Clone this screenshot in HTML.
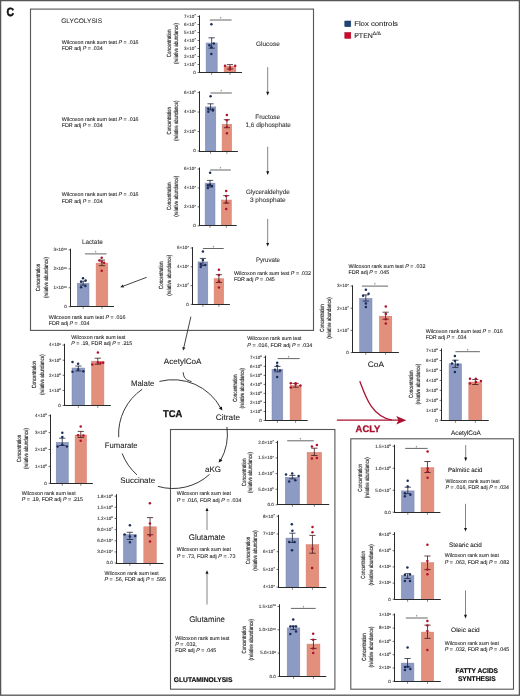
<!DOCTYPE html>
<html><head><meta charset="utf-8"><title>Figure C</title>
<style>html,body{margin:0;padding:0;background:#fff;} svg{display:block;}</style>
</head><body>
<svg width="520" height="696" viewBox="0 0 520 696" text-rendering="geometricPrecision" font-family='"Liberation Sans", Arial, Helvetica, sans-serif'>
<rect x="0" y="0" width="520" height="696" fill="#fff"/>
<rect x="0.6" y="0.6" width="518.8" height="694.6" fill="none" stroke="#555" stroke-width="1.3"/>
<text x="6.60" y="15.60" font-size="12" text-anchor="start" font-weight="bold" fill="#111" textLength="7.60" lengthAdjust="spacingAndGlyphs" stroke="#111" stroke-width="0.5">C</text>
<rect x="30.5" y="9.1" width="283" height="321.3" fill="none" stroke="#5a5a5a" stroke-width="1.15"/>
<text x="61.20" y="23.20" font-size="6.6" text-anchor="start" fill="#333" stroke="#333" stroke-width="0.08" textLength="40.90" lengthAdjust="spacingAndGlyphs">GLYCOLYSIS</text>
<text x="61.80" y="43.60" font-size="5.35" text-anchor="start" fill="#222" stroke="#222" stroke-width="0.08" textLength="76.80" lengthAdjust="spacingAndGlyphs">Wilcoxon rank sum test <tspan font-style="italic">P</tspan> = .016</text>
<text x="61.80" y="50.30" font-size="5.35" text-anchor="start" fill="#222" stroke="#222" stroke-width="0.08" textLength="40.80" lengthAdjust="spacingAndGlyphs">FDR adj <tspan font-style="italic">P</tspan> = .034</text>
<text x="61.80" y="120.70" font-size="5.35" text-anchor="start" fill="#222" stroke="#222" stroke-width="0.08" textLength="76.80" lengthAdjust="spacingAndGlyphs">Wilcoxon rank sum test <tspan font-style="italic">P</tspan> = .016</text>
<text x="61.80" y="127.40" font-size="5.35" text-anchor="start" fill="#222" stroke="#222" stroke-width="0.08" textLength="40.80" lengthAdjust="spacingAndGlyphs">FDR adj <tspan font-style="italic">P</tspan> = .034</text>
<text x="61.80" y="196.30" font-size="5.35" text-anchor="start" fill="#222" stroke="#222" stroke-width="0.08" textLength="76.80" lengthAdjust="spacingAndGlyphs">Wilcoxon rank sum test <tspan font-style="italic">P</tspan> = .016</text>
<text x="61.80" y="203.00" font-size="5.35" text-anchor="start" fill="#222" stroke="#222" stroke-width="0.08" textLength="40.80" lengthAdjust="spacingAndGlyphs">FDR adj <tspan font-style="italic">P</tspan> = .034</text>
<rect x="344.8" y="21.0" width="6.0" height="5.7" fill="#1d4675" stroke="#12305a" stroke-width="0.5"/>
<rect x="344.8" y="32.5" width="6.0" height="5.9" fill="#d0082e" stroke="#a00a24" stroke-width="0.5"/>
<text x="354.20" y="26.20" font-size="7.0" text-anchor="start" fill="#222" stroke="#222" stroke-width="0.08" textLength="43.80" lengthAdjust="spacingAndGlyphs">Flox controls</text>
<text x="354.2" y="38" font-size="7.0" fill="#222" stroke="#222" stroke-width="0.08">PTEN<tspan font-size="5.0" dy="-3.0">Δ/Δ</tspan></text>
<text x="267.90" y="45.60" font-size="6.4" text-anchor="middle" fill="#333" stroke="#333" stroke-width="0.08" textLength="23.80" lengthAdjust="spacingAndGlyphs">Glucose</text>
<text x="267.70" y="118.70" font-size="6.4" text-anchor="middle" fill="#333" stroke="#333" stroke-width="0.08">Fructose</text>
<text x="268.20" y="126.80" font-size="6.4" text-anchor="middle" fill="#333" stroke="#333" stroke-width="0.08" textLength="45.30" lengthAdjust="spacingAndGlyphs">1,6 diphosphate</text>
<text x="267.90" y="193.80" font-size="6.4" text-anchor="middle" fill="#333" stroke="#333" stroke-width="0.08" textLength="43.70" lengthAdjust="spacingAndGlyphs">Glyceraldehyde</text>
<text x="267.80" y="202.10" font-size="6.4" text-anchor="middle" fill="#333" stroke="#333" stroke-width="0.08" textLength="35.80" lengthAdjust="spacingAndGlyphs">3 phosphate</text>
<text x="268.00" y="262.20" font-size="6.4" text-anchor="middle" fill="#333" stroke="#333" stroke-width="0.08" textLength="24.00" lengthAdjust="spacingAndGlyphs">Pyruvate</text>
<line x1="267.70" y1="67.20" x2="267.70" y2="93.24" stroke="#777" stroke-width="0.9"/>
<path d="M266.20,91.80 L269.20,91.80 L267.70,95.40 Z" fill="#111"/>
<line x1="267.70" y1="146.70" x2="267.70" y2="172.74" stroke="#777" stroke-width="0.9"/>
<path d="M266.20,171.30 L269.20,171.30 L267.70,174.90 Z" fill="#111"/>
<line x1="267.70" y1="218.90" x2="267.70" y2="244.44" stroke="#777" stroke-width="0.9"/>
<path d="M266.20,243.00 L269.20,243.00 L267.70,246.60 Z" fill="#111"/>
<text x="234.00" y="274.70" font-size="5.35" text-anchor="start" fill="#222" stroke="#222" stroke-width="0.08" textLength="77.00" lengthAdjust="spacingAndGlyphs">Wilcoxon rank sum test <tspan font-style="italic">P</tspan> = .032</text>
<text x="234.00" y="281.10" font-size="5.35" text-anchor="start" fill="#222" stroke="#222" stroke-width="0.08" textLength="40.80" lengthAdjust="spacingAndGlyphs">FDR adj <tspan font-style="italic">P</tspan> = .045</text>
<text x="92.30" y="243.80" font-size="6.6" text-anchor="middle" fill="#333" stroke="#333" stroke-width="0.08" textLength="20.80" lengthAdjust="spacingAndGlyphs">Lactate</text>
<line x1="146.70" y1="277.30" x2="122.11" y2="286.58" stroke="#222" stroke-width="0.85"/>
<path d="M122.82,284.60 L123.95,287.60 L120.20,287.30 Z" fill="#222"/>
<text x="48.70" y="318.50" font-size="5.35" text-anchor="start" fill="#222" stroke="#222" stroke-width="0.08" textLength="76.80" lengthAdjust="spacingAndGlyphs">Wilcoxon rank sum test <tspan font-style="italic">P</tspan> = .016</text>
<text x="48.70" y="324.70" font-size="5.35" text-anchor="start" fill="#222" stroke="#222" stroke-width="0.08" textLength="40.80" lengthAdjust="spacingAndGlyphs">FDR adj <tspan font-style="italic">P</tspan> = .034</text>
<text transform="translate(170.70,43.40) rotate(-90)" x="0" y="0" font-size="6.0" text-anchor="middle" fill="#222" stroke="#222" stroke-width="0.15" textLength="27.5" lengthAdjust="spacingAndGlyphs">Concentration</text>
<text transform="translate(177.80,43.40) rotate(-90)" x="0" y="0" font-size="6.0" text-anchor="middle" fill="#222" stroke="#222" stroke-width="0.15" textLength="41" lengthAdjust="spacingAndGlyphs">(relative abundance)</text>
<rect x="206.10" y="43.00" width="11.10" height="29.50" fill="#8d9ac3" stroke="#7b87ad" stroke-width="0.5"/>
<rect x="224.10" y="66.20" width="11.70" height="6.30" fill="#e28f7c" stroke="#d97b70" stroke-width="0.5"/>
<line x1="199.50" y1="15.40" x2="199.50" y2="73.00" stroke="#2a2a2a" stroke-width="1.0"/>
<line x1="199.00" y1="72.50" x2="242.00" y2="72.50" stroke="#2a2a2a" stroke-width="1.0"/>
<line x1="197.60" y1="72.50" x2="199.50" y2="72.50" stroke="#2a2a2a" stroke-width="0.7"/>
<text x="195.70" y="73.85" font-size="4.5" text-anchor="end" fill="#333" stroke="#333" stroke-width="0.1">0</text>
<line x1="197.60" y1="64.50" x2="199.50" y2="64.50" stroke="#2a2a2a" stroke-width="0.7"/>
<text x="195.70" y="65.85" font-size="4.5" text-anchor="end" fill="#333" stroke="#333" stroke-width="0.1">1×10<tspan font-size="2.79" dy="-1.6">7</tspan></text>
<line x1="197.60" y1="56.50" x2="199.50" y2="56.50" stroke="#2a2a2a" stroke-width="0.7"/>
<text x="195.70" y="57.85" font-size="4.5" text-anchor="end" fill="#333" stroke="#333" stroke-width="0.1">2×10<tspan font-size="2.79" dy="-1.6">7</tspan></text>
<line x1="197.60" y1="48.50" x2="199.50" y2="48.50" stroke="#2a2a2a" stroke-width="0.7"/>
<text x="195.70" y="49.85" font-size="4.5" text-anchor="end" fill="#333" stroke="#333" stroke-width="0.1">3×10<tspan font-size="2.79" dy="-1.6">7</tspan></text>
<line x1="197.60" y1="40.50" x2="199.50" y2="40.50" stroke="#2a2a2a" stroke-width="0.7"/>
<text x="195.70" y="41.85" font-size="4.5" text-anchor="end" fill="#333" stroke="#333" stroke-width="0.1">4×10<tspan font-size="2.79" dy="-1.6">7</tspan></text>
<line x1="197.60" y1="32.50" x2="199.50" y2="32.50" stroke="#2a2a2a" stroke-width="0.7"/>
<text x="195.70" y="33.85" font-size="4.5" text-anchor="end" fill="#333" stroke="#333" stroke-width="0.1">5×10<tspan font-size="2.79" dy="-1.6">7</tspan></text>
<line x1="197.60" y1="24.50" x2="199.50" y2="24.50" stroke="#2a2a2a" stroke-width="0.7"/>
<text x="195.70" y="25.85" font-size="4.5" text-anchor="end" fill="#333" stroke="#333" stroke-width="0.1">6×10<tspan font-size="2.79" dy="-1.6">7</tspan></text>
<line x1="197.60" y1="16.50" x2="199.50" y2="16.50" stroke="#2a2a2a" stroke-width="0.7"/>
<text x="195.70" y="17.85" font-size="4.5" text-anchor="end" fill="#333" stroke="#333" stroke-width="0.1">7×10<tspan font-size="2.79" dy="-1.6">7</tspan></text>
<line x1="211.65" y1="72.50" x2="211.65" y2="74.80" stroke="#333" stroke-width="0.6"/>
<line x1="229.95" y1="72.50" x2="229.95" y2="74.80" stroke="#333" stroke-width="0.6"/>
<line x1="211.65" y1="37.80" x2="211.65" y2="48.20" stroke="#20243a" stroke-width="0.8"/>
<line x1="208.55" y1="37.80" x2="214.75" y2="37.80" stroke="#20243a" stroke-width="0.8"/>
<line x1="208.55" y1="48.20" x2="214.75" y2="48.20" stroke="#20243a" stroke-width="0.8"/>
<line x1="229.95" y1="64.60" x2="229.95" y2="69.00" stroke="#3a1c1e" stroke-width="0.8"/>
<line x1="226.85" y1="64.60" x2="233.05" y2="64.60" stroke="#3a1c1e" stroke-width="0.8"/>
<line x1="226.85" y1="69.00" x2="233.05" y2="69.00" stroke="#3a1c1e" stroke-width="0.8"/>
<circle cx="211.40" cy="24.30" r="1.25" fill="#1a2c5a"/>
<circle cx="209.40" cy="45.20" r="1.25" fill="#1a2c5a"/>
<circle cx="213.80" cy="43.40" r="1.25" fill="#1a2c5a"/>
<circle cx="211.40" cy="47.20" r="1.25" fill="#1a2c5a"/>
<circle cx="211.40" cy="53.90" r="1.25" fill="#1a2c5a"/>
<circle cx="225.00" cy="65.70" r="1.25" fill="#b0102c"/>
<circle cx="235.20" cy="65.70" r="1.25" fill="#b0102c"/>
<circle cx="229.90" cy="67.70" r="1.25" fill="#b0102c"/>
<circle cx="229.90" cy="69.50" r="1.25" fill="#b0102c"/>
<line x1="209.80" y1="20.00" x2="231.60" y2="20.00" stroke="#666" stroke-width="1.0"/>
<text x="220.70" y="20.30" font-size="4.6" text-anchor="middle" fill="#555">*</text>
<text transform="translate(170.80,120.80) rotate(-90)" x="0" y="0" font-size="6.0" text-anchor="middle" fill="#222" stroke="#222" stroke-width="0.15" textLength="27.5" lengthAdjust="spacingAndGlyphs">Concentration</text>
<text transform="translate(178.10,120.80) rotate(-90)" x="0" y="0" font-size="6.0" text-anchor="middle" fill="#222" stroke="#222" stroke-width="0.15" textLength="40.6" lengthAdjust="spacingAndGlyphs">(relative abundance)</text>
<rect x="205.30" y="106.90" width="10.50" height="44.10" fill="#8d9ac3" stroke="#7b87ad" stroke-width="0.5"/>
<rect x="222.10" y="124.30" width="9.60" height="26.70" fill="#e28f7c" stroke="#d97b70" stroke-width="0.5"/>
<line x1="199.50" y1="91.20" x2="199.50" y2="152.00" stroke="#2a2a2a" stroke-width="1.0"/>
<line x1="199.00" y1="151.50" x2="237.90" y2="151.50" stroke="#2a2a2a" stroke-width="1.0"/>
<line x1="197.60" y1="151.00" x2="199.50" y2="151.00" stroke="#2a2a2a" stroke-width="0.7"/>
<text x="195.70" y="152.35" font-size="4.5" text-anchor="end" fill="#333" stroke="#333" stroke-width="0.1">0</text>
<line x1="197.60" y1="131.53" x2="199.50" y2="131.53" stroke="#2a2a2a" stroke-width="0.7"/>
<text x="195.70" y="132.88" font-size="4.5" text-anchor="end" fill="#333" stroke="#333" stroke-width="0.1">2×10<tspan font-size="2.79" dy="-1.6">6</tspan></text>
<line x1="197.60" y1="112.06" x2="199.50" y2="112.06" stroke="#2a2a2a" stroke-width="0.7"/>
<text x="195.70" y="113.41" font-size="4.5" text-anchor="end" fill="#333" stroke="#333" stroke-width="0.1">4×10<tspan font-size="2.79" dy="-1.6">6</tspan></text>
<line x1="197.60" y1="92.59" x2="199.50" y2="92.59" stroke="#2a2a2a" stroke-width="0.7"/>
<text x="195.70" y="93.94" font-size="4.5" text-anchor="end" fill="#333" stroke="#333" stroke-width="0.1">6×10<tspan font-size="2.79" dy="-1.6">6</tspan></text>
<line x1="210.55" y1="151.50" x2="210.55" y2="153.80" stroke="#333" stroke-width="0.6"/>
<line x1="226.90" y1="151.50" x2="226.90" y2="153.80" stroke="#333" stroke-width="0.6"/>
<line x1="210.55" y1="103.80" x2="210.55" y2="110.00" stroke="#20243a" stroke-width="0.8"/>
<line x1="207.45" y1="103.80" x2="213.65" y2="103.80" stroke="#20243a" stroke-width="0.8"/>
<line x1="207.45" y1="110.00" x2="213.65" y2="110.00" stroke="#20243a" stroke-width="0.8"/>
<line x1="226.90" y1="119.70" x2="226.90" y2="127.70" stroke="#3a1c1e" stroke-width="0.8"/>
<line x1="223.80" y1="119.70" x2="230.00" y2="119.70" stroke="#3a1c1e" stroke-width="0.8"/>
<line x1="223.80" y1="127.70" x2="230.00" y2="127.70" stroke="#3a1c1e" stroke-width="0.8"/>
<circle cx="210.60" cy="96.30" r="1.25" fill="#1a2c5a"/>
<circle cx="208.30" cy="108.70" r="1.25" fill="#1a2c5a"/>
<circle cx="212.90" cy="109.60" r="1.25" fill="#1a2c5a"/>
<circle cx="208.30" cy="111.70" r="1.25" fill="#1a2c5a"/>
<circle cx="212.90" cy="110.50" r="1.25" fill="#1a2c5a"/>
<circle cx="226.90" cy="114.90" r="1.25" fill="#b0102c"/>
<circle cx="226.90" cy="120.20" r="1.25" fill="#b0102c"/>
<circle cx="226.90" cy="127.10" r="1.25" fill="#b0102c"/>
<circle cx="226.90" cy="133.20" r="1.25" fill="#b0102c"/>
<line x1="210.50" y1="93.00" x2="231.80" y2="93.00" stroke="#666" stroke-width="1.0"/>
<text x="221.15" y="93.30" font-size="4.6" text-anchor="middle" fill="#555">*</text>
<text transform="translate(170.90,196.20) rotate(-90)" x="0" y="0" font-size="6.0" text-anchor="middle" fill="#222" stroke="#222" stroke-width="0.15" textLength="27.5" lengthAdjust="spacingAndGlyphs">Concentration</text>
<text transform="translate(177.80,196.20) rotate(-90)" x="0" y="0" font-size="6.0" text-anchor="middle" fill="#222" stroke="#222" stroke-width="0.15" textLength="41" lengthAdjust="spacingAndGlyphs">(relative abundance)</text>
<rect x="205.10" y="183.10" width="9.90" height="42.70" fill="#8d9ac3" stroke="#7b87ad" stroke-width="0.5"/>
<rect x="221.30" y="200.00" width="10.10" height="25.80" fill="#e28f7c" stroke="#d97b70" stroke-width="0.5"/>
<line x1="199.50" y1="167.50" x2="199.50" y2="226.00" stroke="#2a2a2a" stroke-width="1.0"/>
<line x1="199.00" y1="225.50" x2="236.70" y2="225.50" stroke="#2a2a2a" stroke-width="1.0"/>
<line x1="197.60" y1="225.80" x2="199.50" y2="225.80" stroke="#2a2a2a" stroke-width="0.7"/>
<text x="195.70" y="227.15" font-size="4.5" text-anchor="end" fill="#333" stroke="#333" stroke-width="0.1">0</text>
<line x1="197.60" y1="206.87" x2="199.50" y2="206.87" stroke="#2a2a2a" stroke-width="0.7"/>
<text x="195.70" y="208.22" font-size="4.5" text-anchor="end" fill="#333" stroke="#333" stroke-width="0.1">2×10<tspan font-size="2.79" dy="-1.6">7</tspan></text>
<line x1="197.60" y1="187.94" x2="199.50" y2="187.94" stroke="#2a2a2a" stroke-width="0.7"/>
<text x="195.70" y="189.29" font-size="4.5" text-anchor="end" fill="#333" stroke="#333" stroke-width="0.1">4×10<tspan font-size="2.79" dy="-1.6">7</tspan></text>
<line x1="197.60" y1="169.01" x2="199.50" y2="169.01" stroke="#2a2a2a" stroke-width="0.7"/>
<text x="195.70" y="170.36" font-size="4.5" text-anchor="end" fill="#333" stroke="#333" stroke-width="0.1">6×10<tspan font-size="2.79" dy="-1.6">7</tspan></text>
<line x1="210.05" y1="225.50" x2="210.05" y2="227.80" stroke="#333" stroke-width="0.6"/>
<line x1="226.35" y1="225.50" x2="226.35" y2="227.80" stroke="#333" stroke-width="0.6"/>
<line x1="210.05" y1="180.40" x2="210.05" y2="187.00" stroke="#20243a" stroke-width="0.8"/>
<line x1="206.95" y1="180.40" x2="213.15" y2="180.40" stroke="#20243a" stroke-width="0.8"/>
<line x1="206.95" y1="187.00" x2="213.15" y2="187.00" stroke="#20243a" stroke-width="0.8"/>
<line x1="226.35" y1="195.70" x2="226.35" y2="203.10" stroke="#3a1c1e" stroke-width="0.8"/>
<line x1="223.25" y1="195.70" x2="229.45" y2="195.70" stroke="#3a1c1e" stroke-width="0.8"/>
<line x1="223.25" y1="203.10" x2="229.45" y2="203.10" stroke="#3a1c1e" stroke-width="0.8"/>
<circle cx="210.10" cy="172.70" r="1.25" fill="#1a2c5a"/>
<circle cx="207.80" cy="185.30" r="1.25" fill="#1a2c5a"/>
<circle cx="212.00" cy="186.10" r="1.25" fill="#1a2c5a"/>
<circle cx="207.80" cy="188.10" r="1.25" fill="#1a2c5a"/>
<circle cx="210.00" cy="184.70" r="1.25" fill="#1a2c5a"/>
<circle cx="226.20" cy="190.90" r="1.25" fill="#b0102c"/>
<circle cx="226.20" cy="202.60" r="1.25" fill="#b0102c"/>
<circle cx="226.20" cy="208.90" r="1.25" fill="#b0102c"/>
<circle cx="226.20" cy="196.00" r="1.25" fill="#b0102c"/>
<line x1="210.10" y1="170.00" x2="230.80" y2="170.00" stroke="#666" stroke-width="1.0"/>
<text x="220.45" y="170.30" font-size="4.6" text-anchor="middle" fill="#555">*</text>
<text transform="translate(163.40,275.30) rotate(-90)" x="0" y="0" font-size="6.0" text-anchor="middle" fill="#222" stroke="#222" stroke-width="0.15" textLength="27.3" lengthAdjust="spacingAndGlyphs">Concentration</text>
<text transform="translate(170.80,275.30) rotate(-90)" x="0" y="0" font-size="6.0" text-anchor="middle" fill="#222" stroke="#222" stroke-width="0.15" textLength="41" lengthAdjust="spacingAndGlyphs">(relative abundance)</text>
<rect x="198.00" y="261.90" width="9.80" height="42.50" fill="#8d9ac3" stroke="#7b87ad" stroke-width="0.5"/>
<rect x="214.10" y="278.70" width="9.60" height="25.70" fill="#e28f7c" stroke="#d97b70" stroke-width="0.5"/>
<line x1="192.50" y1="247.10" x2="192.50" y2="305.00" stroke="#2a2a2a" stroke-width="1.0"/>
<line x1="192.00" y1="304.50" x2="229.90" y2="304.50" stroke="#2a2a2a" stroke-width="1.0"/>
<line x1="190.60" y1="304.40" x2="192.50" y2="304.40" stroke="#2a2a2a" stroke-width="0.7"/>
<text x="188.70" y="305.75" font-size="4.5" text-anchor="end" fill="#333" stroke="#333" stroke-width="0.1">0</text>
<line x1="190.60" y1="285.60" x2="192.50" y2="285.60" stroke="#2a2a2a" stroke-width="0.7"/>
<text x="188.70" y="286.95" font-size="4.5" text-anchor="end" fill="#333" stroke="#333" stroke-width="0.1">2×10<tspan font-size="2.79" dy="-1.6">7</tspan></text>
<line x1="190.60" y1="266.80" x2="192.50" y2="266.80" stroke="#2a2a2a" stroke-width="0.7"/>
<text x="188.70" y="268.15" font-size="4.5" text-anchor="end" fill="#333" stroke="#333" stroke-width="0.1">4×10<tspan font-size="2.79" dy="-1.6">7</tspan></text>
<line x1="190.60" y1="248.00" x2="192.50" y2="248.00" stroke="#2a2a2a" stroke-width="0.7"/>
<text x="188.70" y="249.35" font-size="4.5" text-anchor="end" fill="#333" stroke="#333" stroke-width="0.1">6×10<tspan font-size="2.79" dy="-1.6">7</tspan></text>
<line x1="202.90" y1="304.50" x2="202.90" y2="306.80" stroke="#333" stroke-width="0.6"/>
<line x1="218.90" y1="304.50" x2="218.90" y2="306.80" stroke="#333" stroke-width="0.6"/>
<line x1="202.90" y1="258.40" x2="202.90" y2="265.50" stroke="#20243a" stroke-width="0.8"/>
<line x1="199.80" y1="258.40" x2="206.00" y2="258.40" stroke="#20243a" stroke-width="0.8"/>
<line x1="199.80" y1="265.50" x2="206.00" y2="265.50" stroke="#20243a" stroke-width="0.8"/>
<line x1="218.90" y1="274.70" x2="218.90" y2="282.50" stroke="#3a1c1e" stroke-width="0.8"/>
<line x1="215.80" y1="274.70" x2="222.00" y2="274.70" stroke="#3a1c1e" stroke-width="0.8"/>
<line x1="215.80" y1="282.50" x2="222.00" y2="282.50" stroke="#3a1c1e" stroke-width="0.8"/>
<circle cx="202.90" cy="251.50" r="1.25" fill="#1a2c5a"/>
<circle cx="200.70" cy="264.00" r="1.25" fill="#1a2c5a"/>
<circle cx="205.30" cy="265.10" r="1.25" fill="#1a2c5a"/>
<circle cx="200.70" cy="266.90" r="1.25" fill="#1a2c5a"/>
<circle cx="202.90" cy="260.00" r="1.25" fill="#1a2c5a"/>
<circle cx="218.90" cy="269.70" r="1.25" fill="#b0102c"/>
<circle cx="218.90" cy="275.00" r="1.25" fill="#b0102c"/>
<circle cx="218.90" cy="281.40" r="1.25" fill="#b0102c"/>
<circle cx="218.90" cy="287.40" r="1.25" fill="#b0102c"/>
<line x1="202.90" y1="248.50" x2="223.70" y2="248.50" stroke="#666" stroke-width="1.0"/>
<text x="213.30" y="248.80" font-size="4.6" text-anchor="middle" fill="#555">*</text>
<text transform="translate(40.40,277.50) rotate(-90)" x="0" y="0" font-size="6.0" text-anchor="middle" fill="#222" stroke="#222" stroke-width="0.15" textLength="27.3" lengthAdjust="spacingAndGlyphs">Concentration</text>
<text transform="translate(47.50,277.50) rotate(-90)" x="0" y="0" font-size="6.0" text-anchor="middle" fill="#222" stroke="#222" stroke-width="0.15" textLength="41" lengthAdjust="spacingAndGlyphs">(relative abundance)</text>
<rect x="77.30" y="283.20" width="11.70" height="23.50" fill="#8d9ac3" stroke="#7b87ad" stroke-width="0.5"/>
<rect x="96.10" y="263.10" width="11.70" height="43.60" fill="#e28f7c" stroke="#d97b70" stroke-width="0.5"/>
<line x1="70.50" y1="248.70" x2="70.50" y2="307.00" stroke="#2a2a2a" stroke-width="1.0"/>
<line x1="70.00" y1="306.50" x2="114.00" y2="306.50" stroke="#2a2a2a" stroke-width="1.0"/>
<line x1="68.60" y1="306.70" x2="70.50" y2="306.70" stroke="#2a2a2a" stroke-width="0.7"/>
<text x="66.70" y="308.05" font-size="4.5" text-anchor="end" fill="#333" stroke="#333" stroke-width="0.1">0</text>
<line x1="68.60" y1="287.77" x2="70.50" y2="287.77" stroke="#2a2a2a" stroke-width="0.7"/>
<text x="66.70" y="289.12" font-size="4.5" text-anchor="end" fill="#333" stroke="#333" stroke-width="0.1">1×10<tspan font-size="2.79" dy="-1.6">10</tspan></text>
<line x1="68.60" y1="268.84" x2="70.50" y2="268.84" stroke="#2a2a2a" stroke-width="0.7"/>
<text x="66.70" y="270.19" font-size="4.5" text-anchor="end" fill="#333" stroke="#333" stroke-width="0.1">2×10<tspan font-size="2.79" dy="-1.6">10</tspan></text>
<line x1="68.60" y1="249.91" x2="70.50" y2="249.91" stroke="#2a2a2a" stroke-width="0.7"/>
<text x="66.70" y="251.26" font-size="4.5" text-anchor="end" fill="#333" stroke="#333" stroke-width="0.1">3×10<tspan font-size="2.79" dy="-1.6">10</tspan></text>
<line x1="83.15" y1="306.50" x2="83.15" y2="308.80" stroke="#333" stroke-width="0.6"/>
<line x1="101.95" y1="306.50" x2="101.95" y2="308.80" stroke="#333" stroke-width="0.6"/>
<line x1="83.15" y1="281.20" x2="83.15" y2="285.10" stroke="#20243a" stroke-width="0.8"/>
<line x1="80.05" y1="281.20" x2="86.25" y2="281.20" stroke="#20243a" stroke-width="0.8"/>
<line x1="80.05" y1="285.10" x2="86.25" y2="285.10" stroke="#20243a" stroke-width="0.8"/>
<line x1="101.95" y1="260.10" x2="101.95" y2="265.70" stroke="#3a1c1e" stroke-width="0.8"/>
<line x1="98.85" y1="260.10" x2="105.05" y2="260.10" stroke="#3a1c1e" stroke-width="0.8"/>
<line x1="98.85" y1="265.70" x2="105.05" y2="265.70" stroke="#3a1c1e" stroke-width="0.8"/>
<circle cx="83.00" cy="278.20" r="1.25" fill="#1a2c5a"/>
<circle cx="85.60" cy="280.60" r="1.25" fill="#1a2c5a"/>
<circle cx="81.10" cy="281.80" r="1.25" fill="#1a2c5a"/>
<circle cx="85.40" cy="285.90" r="1.25" fill="#1a2c5a"/>
<circle cx="81.10" cy="287.20" r="1.25" fill="#1a2c5a"/>
<circle cx="101.70" cy="257.70" r="1.25" fill="#b0102c"/>
<circle cx="99.40" cy="260.50" r="1.25" fill="#b0102c"/>
<circle cx="104.10" cy="262.70" r="1.25" fill="#b0102c"/>
<circle cx="101.70" cy="270.80" r="1.25" fill="#b0102c"/>
<circle cx="101.70" cy="261.80" r="1.25" fill="#b0102c"/>
<line x1="84.90" y1="253.90" x2="106.50" y2="253.90" stroke="#666" stroke-width="1.0"/>
<text x="95.70" y="254.20" font-size="4.6" text-anchor="middle" fill="#555">*</text>
<text transform="translate(323.70,318.00) rotate(-90)" x="0" y="0" font-size="6.0" text-anchor="middle" fill="#222" stroke="#222" stroke-width="0.15" textLength="27.3" lengthAdjust="spacingAndGlyphs">Concentration</text>
<text transform="translate(331.10,318.00) rotate(-90)" x="0" y="0" font-size="6.0" text-anchor="middle" fill="#222" stroke="#222" stroke-width="0.15" textLength="41.5" lengthAdjust="spacingAndGlyphs">(relative abundance)</text>
<rect x="359.60" y="298.40" width="12.40" height="54.20" fill="#8d9ac3" stroke="#7b87ad" stroke-width="0.5"/>
<rect x="379.40" y="316.20" width="12.40" height="36.40" fill="#e28f7c" stroke="#d97b70" stroke-width="0.5"/>
<line x1="352.50" y1="285.30" x2="352.50" y2="353.00" stroke="#2a2a2a" stroke-width="1.0"/>
<line x1="352.00" y1="352.50" x2="398.90" y2="352.50" stroke="#2a2a2a" stroke-width="1.0"/>
<line x1="350.60" y1="352.60" x2="352.50" y2="352.60" stroke="#2a2a2a" stroke-width="0.7"/>
<text x="348.70" y="353.95" font-size="4.5" text-anchor="end" fill="#333" stroke="#333" stroke-width="0.1">0</text>
<line x1="350.60" y1="330.40" x2="352.50" y2="330.40" stroke="#2a2a2a" stroke-width="0.7"/>
<text x="348.70" y="331.75" font-size="4.5" text-anchor="end" fill="#333" stroke="#333" stroke-width="0.1">1×10<tspan font-size="2.79" dy="-1.6">7</tspan></text>
<line x1="350.60" y1="308.20" x2="352.50" y2="308.20" stroke="#2a2a2a" stroke-width="0.7"/>
<text x="348.70" y="309.55" font-size="4.5" text-anchor="end" fill="#333" stroke="#333" stroke-width="0.1">2×10<tspan font-size="2.79" dy="-1.6">7</tspan></text>
<line x1="350.60" y1="286.00" x2="352.50" y2="286.00" stroke="#2a2a2a" stroke-width="0.7"/>
<text x="348.70" y="287.35" font-size="4.5" text-anchor="end" fill="#333" stroke="#333" stroke-width="0.1">3×10<tspan font-size="2.79" dy="-1.6">7</tspan></text>
<line x1="365.80" y1="352.50" x2="365.80" y2="354.80" stroke="#333" stroke-width="0.6"/>
<line x1="385.60" y1="352.50" x2="385.60" y2="354.80" stroke="#333" stroke-width="0.6"/>
<line x1="365.80" y1="294.90" x2="365.80" y2="301.10" stroke="#20243a" stroke-width="0.8"/>
<line x1="362.70" y1="294.90" x2="368.90" y2="294.90" stroke="#20243a" stroke-width="0.8"/>
<line x1="362.70" y1="301.10" x2="368.90" y2="301.10" stroke="#20243a" stroke-width="0.8"/>
<line x1="385.60" y1="312.20" x2="385.60" y2="319.20" stroke="#3a1c1e" stroke-width="0.8"/>
<line x1="382.50" y1="312.20" x2="388.70" y2="312.20" stroke="#3a1c1e" stroke-width="0.8"/>
<line x1="382.50" y1="319.20" x2="388.70" y2="319.20" stroke="#3a1c1e" stroke-width="0.8"/>
<circle cx="365.90" cy="289.80" r="1.25" fill="#1a2c5a"/>
<circle cx="368.60" cy="293.80" r="1.25" fill="#1a2c5a"/>
<circle cx="363.10" cy="295.80" r="1.25" fill="#1a2c5a"/>
<circle cx="365.90" cy="303.60" r="1.25" fill="#1a2c5a"/>
<circle cx="365.90" cy="307.00" r="1.25" fill="#1a2c5a"/>
<circle cx="385.80" cy="306.60" r="1.25" fill="#b0102c"/>
<circle cx="385.80" cy="314.00" r="1.25" fill="#b0102c"/>
<circle cx="385.80" cy="319.20" r="1.25" fill="#b0102c"/>
<circle cx="385.80" cy="323.60" r="1.25" fill="#b0102c"/>
<line x1="361.90" y1="286.10" x2="388.10" y2="286.10" stroke="#666" stroke-width="1.0"/>
<text x="375.00" y="286.40" font-size="4.6" text-anchor="middle" fill="#555">*</text>
<text x="375.90" y="366.70" font-size="8.0" text-anchor="middle" fill="#222" stroke="#222" stroke-width="0.08" textLength="16.10" lengthAdjust="spacingAndGlyphs">CoA</text>
<text x="348.40" y="267.80" font-size="5.35" text-anchor="start" fill="#222" stroke="#222" stroke-width="0.08" textLength="77.00" lengthAdjust="spacingAndGlyphs">Wilcoxon rank sum test <tspan font-style="italic">P</tspan> = .032</text>
<text x="348.40" y="274.40" font-size="5.35" text-anchor="start" fill="#222" stroke="#222" stroke-width="0.08" textLength="40.80" lengthAdjust="spacingAndGlyphs">FDR adj <tspan font-style="italic">P</tspan> = .045</text>
<text transform="translate(413.10,384.20) rotate(-90)" x="0" y="0" font-size="6.0" text-anchor="middle" fill="#222" stroke="#222" stroke-width="0.15" textLength="27.5" lengthAdjust="spacingAndGlyphs">Concentration</text>
<text transform="translate(419.80,384.20) rotate(-90)" x="0" y="0" font-size="6.0" text-anchor="middle" fill="#222" stroke="#222" stroke-width="0.15" textLength="40.7" lengthAdjust="spacingAndGlyphs">(relative abundance)</text>
<rect x="449.10" y="363.80" width="12.50" height="56.50" fill="#8d9ac3" stroke="#7b87ad" stroke-width="0.5"/>
<rect x="468.80" y="382.00" width="13.00" height="38.30" fill="#e28f7c" stroke="#d97b70" stroke-width="0.5"/>
<line x1="441.50" y1="348.50" x2="441.50" y2="421.00" stroke="#2a2a2a" stroke-width="1.0"/>
<line x1="441.00" y1="420.50" x2="488.80" y2="420.50" stroke="#2a2a2a" stroke-width="1.0"/>
<line x1="439.60" y1="420.30" x2="441.50" y2="420.30" stroke="#2a2a2a" stroke-width="0.7"/>
<text x="437.70" y="421.65" font-size="4.5" text-anchor="end" fill="#333" stroke="#333" stroke-width="0.1">0</text>
<line x1="439.60" y1="410.33" x2="441.50" y2="410.33" stroke="#2a2a2a" stroke-width="0.7"/>
<text x="437.70" y="411.68" font-size="4.5" text-anchor="end" fill="#333" stroke="#333" stroke-width="0.1">1×10<tspan font-size="2.79" dy="-1.6">8</tspan></text>
<line x1="439.60" y1="400.36" x2="441.50" y2="400.36" stroke="#2a2a2a" stroke-width="0.7"/>
<text x="437.70" y="401.71" font-size="4.5" text-anchor="end" fill="#333" stroke="#333" stroke-width="0.1">2×10<tspan font-size="2.79" dy="-1.6">8</tspan></text>
<line x1="439.60" y1="390.39" x2="441.50" y2="390.39" stroke="#2a2a2a" stroke-width="0.7"/>
<text x="437.70" y="391.74" font-size="4.5" text-anchor="end" fill="#333" stroke="#333" stroke-width="0.1">3×10<tspan font-size="2.79" dy="-1.6">8</tspan></text>
<line x1="439.60" y1="380.42" x2="441.50" y2="380.42" stroke="#2a2a2a" stroke-width="0.7"/>
<text x="437.70" y="381.77" font-size="4.5" text-anchor="end" fill="#333" stroke="#333" stroke-width="0.1">4×10<tspan font-size="2.79" dy="-1.6">8</tspan></text>
<line x1="439.60" y1="370.45" x2="441.50" y2="370.45" stroke="#2a2a2a" stroke-width="0.7"/>
<text x="437.70" y="371.80" font-size="4.5" text-anchor="end" fill="#333" stroke="#333" stroke-width="0.1">5×10<tspan font-size="2.79" dy="-1.6">8</tspan></text>
<line x1="439.60" y1="360.48" x2="441.50" y2="360.48" stroke="#2a2a2a" stroke-width="0.7"/>
<text x="437.70" y="361.83" font-size="4.5" text-anchor="end" fill="#333" stroke="#333" stroke-width="0.1">6×10<tspan font-size="2.79" dy="-1.6">8</tspan></text>
<line x1="439.60" y1="350.51" x2="441.50" y2="350.51" stroke="#2a2a2a" stroke-width="0.7"/>
<text x="437.70" y="351.86" font-size="4.5" text-anchor="end" fill="#333" stroke="#333" stroke-width="0.1">7×10<tspan font-size="2.79" dy="-1.6">8</tspan></text>
<line x1="455.35" y1="420.50" x2="455.35" y2="422.80" stroke="#333" stroke-width="0.6"/>
<line x1="475.30" y1="420.50" x2="475.30" y2="422.80" stroke="#333" stroke-width="0.6"/>
<line x1="455.35" y1="360.20" x2="455.35" y2="367.40" stroke="#20243a" stroke-width="0.8"/>
<line x1="452.25" y1="360.20" x2="458.45" y2="360.20" stroke="#20243a" stroke-width="0.8"/>
<line x1="452.25" y1="367.40" x2="458.45" y2="367.40" stroke="#20243a" stroke-width="0.8"/>
<line x1="475.30" y1="379.50" x2="475.30" y2="384.50" stroke="#3a1c1e" stroke-width="0.8"/>
<line x1="472.20" y1="379.50" x2="478.40" y2="379.50" stroke="#3a1c1e" stroke-width="0.8"/>
<line x1="472.20" y1="384.50" x2="478.40" y2="384.50" stroke="#3a1c1e" stroke-width="0.8"/>
<circle cx="454.90" cy="356.10" r="1.25" fill="#1a2c5a"/>
<circle cx="452.00" cy="363.50" r="1.25" fill="#1a2c5a"/>
<circle cx="457.80" cy="364.70" r="1.25" fill="#1a2c5a"/>
<circle cx="454.90" cy="371.90" r="1.25" fill="#1a2c5a"/>
<circle cx="455.00" cy="361.00" r="1.25" fill="#1a2c5a"/>
<circle cx="470.00" cy="378.80" r="1.25" fill="#b0102c"/>
<circle cx="470.00" cy="383.50" r="1.25" fill="#b0102c"/>
<circle cx="475.80" cy="378.80" r="1.25" fill="#b0102c"/>
<circle cx="480.90" cy="381.10" r="1.25" fill="#b0102c"/>
<circle cx="476.00" cy="382.00" r="1.25" fill="#b0102c"/>
<line x1="455.40" y1="351.70" x2="479.90" y2="351.70" stroke="#666" stroke-width="1.0"/>
<text x="467.65" y="352.00" font-size="4.6" text-anchor="middle" fill="#555">*</text>
<text x="465.90" y="434.60" font-size="6.6" text-anchor="middle" fill="#222" stroke="#222" stroke-width="0.08" textLength="29.80" lengthAdjust="spacingAndGlyphs">AcetylCoA</text>
<text x="425.70" y="332.80" font-size="5.35" text-anchor="start" fill="#222" stroke="#222" stroke-width="0.08" textLength="77.00" lengthAdjust="spacingAndGlyphs">Wilcoxon rank sum test <tspan font-style="italic">P</tspan> = .016</text>
<text x="425.70" y="339.10" font-size="5.35" text-anchor="start" fill="#222" stroke="#222" stroke-width="0.08" textLength="40.80" lengthAdjust="spacingAndGlyphs">FDR adj <tspan font-style="italic">P</tspan> = .034</text>
<text transform="translate(236.90,388.20) rotate(-90)" x="0" y="0" font-size="6.0" text-anchor="middle" fill="#222" stroke="#222" stroke-width="0.15" textLength="27.3" lengthAdjust="spacingAndGlyphs">Concentration</text>
<text transform="translate(243.60,388.20) rotate(-90)" x="0" y="0" font-size="6.0" text-anchor="middle" fill="#222" stroke="#222" stroke-width="0.15" textLength="40.6" lengthAdjust="spacingAndGlyphs">(relative abundance)</text>
<rect x="272.00" y="369.60" width="10.80" height="50.90" fill="#8d9ac3" stroke="#7b87ad" stroke-width="0.5"/>
<rect x="290.10" y="385.30" width="11.00" height="35.20" fill="#e28f7c" stroke="#d97b70" stroke-width="0.5"/>
<line x1="265.50" y1="355.60" x2="265.50" y2="421.00" stroke="#2a2a2a" stroke-width="1.0"/>
<line x1="265.00" y1="420.50" x2="307.70" y2="420.50" stroke="#2a2a2a" stroke-width="1.0"/>
<line x1="263.60" y1="420.50" x2="265.50" y2="420.50" stroke="#2a2a2a" stroke-width="0.7"/>
<text x="261.70" y="421.85" font-size="4.5" text-anchor="end" fill="#333" stroke="#333" stroke-width="0.1">0</text>
<line x1="263.60" y1="411.47" x2="265.50" y2="411.47" stroke="#2a2a2a" stroke-width="0.7"/>
<text x="261.70" y="412.82" font-size="4.5" text-anchor="end" fill="#333" stroke="#333" stroke-width="0.1">1×10<tspan font-size="2.79" dy="-1.6">8</tspan></text>
<line x1="263.60" y1="402.44" x2="265.50" y2="402.44" stroke="#2a2a2a" stroke-width="0.7"/>
<text x="261.70" y="403.79" font-size="4.5" text-anchor="end" fill="#333" stroke="#333" stroke-width="0.1">2×10<tspan font-size="2.79" dy="-1.6">8</tspan></text>
<line x1="263.60" y1="393.41" x2="265.50" y2="393.41" stroke="#2a2a2a" stroke-width="0.7"/>
<text x="261.70" y="394.76" font-size="4.5" text-anchor="end" fill="#333" stroke="#333" stroke-width="0.1">3×10<tspan font-size="2.79" dy="-1.6">8</tspan></text>
<line x1="263.60" y1="384.38" x2="265.50" y2="384.38" stroke="#2a2a2a" stroke-width="0.7"/>
<text x="261.70" y="385.73" font-size="4.5" text-anchor="end" fill="#333" stroke="#333" stroke-width="0.1">4×10<tspan font-size="2.79" dy="-1.6">8</tspan></text>
<line x1="263.60" y1="375.35" x2="265.50" y2="375.35" stroke="#2a2a2a" stroke-width="0.7"/>
<text x="261.70" y="376.70" font-size="4.5" text-anchor="end" fill="#333" stroke="#333" stroke-width="0.1">5×10<tspan font-size="2.79" dy="-1.6">8</tspan></text>
<line x1="263.60" y1="366.32" x2="265.50" y2="366.32" stroke="#2a2a2a" stroke-width="0.7"/>
<text x="261.70" y="367.67" font-size="4.5" text-anchor="end" fill="#333" stroke="#333" stroke-width="0.1">6×10<tspan font-size="2.79" dy="-1.6">8</tspan></text>
<line x1="263.60" y1="357.29" x2="265.50" y2="357.29" stroke="#2a2a2a" stroke-width="0.7"/>
<text x="261.70" y="358.64" font-size="4.5" text-anchor="end" fill="#333" stroke="#333" stroke-width="0.1">7×10<tspan font-size="2.79" dy="-1.6">8</tspan></text>
<line x1="277.40" y1="420.50" x2="277.40" y2="422.80" stroke="#333" stroke-width="0.6"/>
<line x1="295.60" y1="420.50" x2="295.60" y2="422.80" stroke="#333" stroke-width="0.6"/>
<line x1="277.40" y1="366.40" x2="277.40" y2="371.80" stroke="#20243a" stroke-width="0.8"/>
<line x1="274.30" y1="366.40" x2="280.50" y2="366.40" stroke="#20243a" stroke-width="0.8"/>
<line x1="274.30" y1="371.80" x2="280.50" y2="371.80" stroke="#20243a" stroke-width="0.8"/>
<line x1="295.60" y1="383.40" x2="295.60" y2="387.20" stroke="#3a1c1e" stroke-width="0.8"/>
<line x1="292.50" y1="383.40" x2="298.70" y2="383.40" stroke="#3a1c1e" stroke-width="0.8"/>
<line x1="292.50" y1="387.20" x2="298.70" y2="387.20" stroke="#3a1c1e" stroke-width="0.8"/>
<circle cx="277.20" cy="362.70" r="1.25" fill="#1a2c5a"/>
<circle cx="277.20" cy="365.80" r="1.25" fill="#1a2c5a"/>
<circle cx="274.90" cy="369.80" r="1.25" fill="#1a2c5a"/>
<circle cx="280.00" cy="370.60" r="1.25" fill="#1a2c5a"/>
<circle cx="277.20" cy="377.00" r="1.25" fill="#1a2c5a"/>
<circle cx="290.80" cy="383.20" r="1.25" fill="#b0102c"/>
<circle cx="295.60" cy="383.20" r="1.25" fill="#b0102c"/>
<circle cx="300.40" cy="385.40" r="1.25" fill="#b0102c"/>
<circle cx="290.80" cy="387.60" r="1.25" fill="#b0102c"/>
<circle cx="295.60" cy="383.90" r="1.25" fill="#b0102c"/>
<line x1="277.70" y1="358.60" x2="299.70" y2="358.60" stroke="#666" stroke-width="1.0"/>
<text x="288.70" y="358.90" font-size="4.6" text-anchor="middle" fill="#555">*</text>
<text x="247.30" y="339.90" font-size="5.35" text-anchor="start" fill="#222" stroke="#222" stroke-width="0.08" textLength="54.20" lengthAdjust="spacingAndGlyphs">Wilcoxon rank sum test</text>
<text x="247.30" y="346.60" font-size="5.35" text-anchor="start" fill="#222" stroke="#222" stroke-width="0.08" textLength="64.90" lengthAdjust="spacingAndGlyphs"><tspan font-style="italic">P</tspan> = .016, FDR adj <tspan font-style="italic">P</tspan> = .034</text>
<text transform="translate(35.70,374.60) rotate(-90)" x="0" y="0" font-size="6.0" text-anchor="middle" fill="#222" stroke="#222" stroke-width="0.15" textLength="27.3" lengthAdjust="spacingAndGlyphs">Concentration</text>
<text transform="translate(43.50,374.60) rotate(-90)" x="0" y="0" font-size="6.0" text-anchor="middle" fill="#222" stroke="#222" stroke-width="0.15" textLength="40.7" lengthAdjust="spacingAndGlyphs">(relative abundance)</text>
<rect x="72.00" y="368.00" width="12.70" height="37.50" fill="#8d9ac3" stroke="#7b87ad" stroke-width="0.5"/>
<rect x="91.60" y="361.20" width="12.30" height="44.30" fill="#e28f7c" stroke="#d97b70" stroke-width="0.5"/>
<line x1="64.50" y1="343.80" x2="64.50" y2="406.00" stroke="#2a2a2a" stroke-width="1.0"/>
<line x1="64.00" y1="405.50" x2="110.80" y2="405.50" stroke="#2a2a2a" stroke-width="1.0"/>
<line x1="62.60" y1="405.50" x2="64.50" y2="405.50" stroke="#2a2a2a" stroke-width="0.7"/>
<text x="60.70" y="406.85" font-size="4.5" text-anchor="end" fill="#333" stroke="#333" stroke-width="0.1">0</text>
<line x1="62.60" y1="390.40" x2="64.50" y2="390.40" stroke="#2a2a2a" stroke-width="0.7"/>
<text x="60.70" y="391.75" font-size="4.5" text-anchor="end" fill="#333" stroke="#333" stroke-width="0.1">1×10<tspan font-size="2.79" dy="-1.6">8</tspan></text>
<line x1="62.60" y1="375.30" x2="64.50" y2="375.30" stroke="#2a2a2a" stroke-width="0.7"/>
<text x="60.70" y="376.65" font-size="4.5" text-anchor="end" fill="#333" stroke="#333" stroke-width="0.1">2×10<tspan font-size="2.79" dy="-1.6">8</tspan></text>
<line x1="62.60" y1="360.20" x2="64.50" y2="360.20" stroke="#2a2a2a" stroke-width="0.7"/>
<text x="60.70" y="361.55" font-size="4.5" text-anchor="end" fill="#333" stroke="#333" stroke-width="0.1">3×10<tspan font-size="2.79" dy="-1.6">8</tspan></text>
<line x1="62.60" y1="345.10" x2="64.50" y2="345.10" stroke="#2a2a2a" stroke-width="0.7"/>
<text x="60.70" y="346.45" font-size="4.5" text-anchor="end" fill="#333" stroke="#333" stroke-width="0.1">4×10<tspan font-size="2.79" dy="-1.6">8</tspan></text>
<line x1="78.35" y1="405.50" x2="78.35" y2="407.80" stroke="#333" stroke-width="0.6"/>
<line x1="97.75" y1="405.50" x2="97.75" y2="407.80" stroke="#333" stroke-width="0.6"/>
<line x1="78.35" y1="366.00" x2="78.35" y2="371.00" stroke="#20243a" stroke-width="0.8"/>
<line x1="75.25" y1="366.00" x2="81.45" y2="366.00" stroke="#20243a" stroke-width="0.8"/>
<line x1="75.25" y1="371.00" x2="81.45" y2="371.00" stroke="#20243a" stroke-width="0.8"/>
<line x1="97.75" y1="358.20" x2="97.75" y2="364.20" stroke="#3a1c1e" stroke-width="0.8"/>
<line x1="94.65" y1="358.20" x2="100.85" y2="358.20" stroke="#3a1c1e" stroke-width="0.8"/>
<line x1="94.65" y1="364.20" x2="100.85" y2="364.20" stroke="#3a1c1e" stroke-width="0.8"/>
<circle cx="72.50" cy="361.90" r="1.25" fill="#1a2c5a"/>
<circle cx="78.10" cy="363.70" r="1.25" fill="#1a2c5a"/>
<circle cx="72.50" cy="371.70" r="1.25" fill="#1a2c5a"/>
<circle cx="83.40" cy="371.20" r="1.25" fill="#1a2c5a"/>
<circle cx="78.10" cy="369.50" r="1.25" fill="#1a2c5a"/>
<circle cx="97.90" cy="352.60" r="1.25" fill="#b0102c"/>
<circle cx="92.30" cy="364.40" r="1.25" fill="#b0102c"/>
<circle cx="103.20" cy="362.80" r="1.25" fill="#b0102c"/>
<circle cx="97.90" cy="362.60" r="1.25" fill="#b0102c"/>
<circle cx="100.50" cy="363.00" r="1.25" fill="#b0102c"/>
<text x="71.30" y="339.00" font-size="5.35" text-anchor="start" fill="#222" stroke="#222" stroke-width="0.08" textLength="54.20" lengthAdjust="spacingAndGlyphs">Wilcoxon rank sum test</text>
<text x="71.30" y="345.10" font-size="5.35" text-anchor="start" fill="#222" stroke="#222" stroke-width="0.08" textLength="61.00" lengthAdjust="spacingAndGlyphs"><tspan font-style="italic">P</tspan> = .19, FDR adj <tspan font-style="italic">P</tspan> = .215</text>
<text transform="translate(21.30,448.50) rotate(-90)" x="0" y="0" font-size="6.0" text-anchor="middle" fill="#222" stroke="#222" stroke-width="0.15" textLength="27.5" lengthAdjust="spacingAndGlyphs">Concentration</text>
<text transform="translate(28.40,448.50) rotate(-90)" x="0" y="0" font-size="6.0" text-anchor="middle" fill="#222" stroke="#222" stroke-width="0.15" textLength="41" lengthAdjust="spacingAndGlyphs">(relative abundance)</text>
<rect x="56.20" y="442.30" width="12.10" height="41.00" fill="#8d9ac3" stroke="#7b87ad" stroke-width="0.5"/>
<rect x="75.10" y="435.00" width="11.40" height="48.30" fill="#e28f7c" stroke="#d97b70" stroke-width="0.5"/>
<line x1="50.50" y1="414.50" x2="50.50" y2="484.00" stroke="#2a2a2a" stroke-width="1.0"/>
<line x1="50.00" y1="483.50" x2="92.90" y2="483.50" stroke="#2a2a2a" stroke-width="1.0"/>
<line x1="48.60" y1="483.30" x2="50.50" y2="483.30" stroke="#2a2a2a" stroke-width="0.7"/>
<text x="46.70" y="484.65" font-size="4.5" text-anchor="end" fill="#333" stroke="#333" stroke-width="0.1">0</text>
<line x1="48.60" y1="466.40" x2="50.50" y2="466.40" stroke="#2a2a2a" stroke-width="0.7"/>
<text x="46.70" y="467.75" font-size="4.5" text-anchor="end" fill="#333" stroke="#333" stroke-width="0.1">1×10<tspan font-size="2.79" dy="-1.6">8</tspan></text>
<line x1="48.60" y1="449.50" x2="50.50" y2="449.50" stroke="#2a2a2a" stroke-width="0.7"/>
<text x="46.70" y="450.85" font-size="4.5" text-anchor="end" fill="#333" stroke="#333" stroke-width="0.1">2×10<tspan font-size="2.79" dy="-1.6">8</tspan></text>
<line x1="48.60" y1="432.60" x2="50.50" y2="432.60" stroke="#2a2a2a" stroke-width="0.7"/>
<text x="46.70" y="433.95" font-size="4.5" text-anchor="end" fill="#333" stroke="#333" stroke-width="0.1">3×10<tspan font-size="2.79" dy="-1.6">8</tspan></text>
<line x1="48.60" y1="415.70" x2="50.50" y2="415.70" stroke="#2a2a2a" stroke-width="0.7"/>
<text x="46.70" y="417.05" font-size="4.5" text-anchor="end" fill="#333" stroke="#333" stroke-width="0.1">4×10<tspan font-size="2.79" dy="-1.6">8</tspan></text>
<line x1="62.25" y1="483.50" x2="62.25" y2="485.80" stroke="#333" stroke-width="0.6"/>
<line x1="80.80" y1="483.50" x2="80.80" y2="485.80" stroke="#333" stroke-width="0.6"/>
<line x1="62.25" y1="438.20" x2="62.25" y2="445.50" stroke="#20243a" stroke-width="0.8"/>
<line x1="59.15" y1="438.20" x2="65.35" y2="438.20" stroke="#20243a" stroke-width="0.8"/>
<line x1="59.15" y1="445.50" x2="65.35" y2="445.50" stroke="#20243a" stroke-width="0.8"/>
<line x1="80.80" y1="431.40" x2="80.80" y2="437.50" stroke="#3a1c1e" stroke-width="0.8"/>
<line x1="77.70" y1="431.40" x2="83.90" y2="431.40" stroke="#3a1c1e" stroke-width="0.8"/>
<line x1="77.70" y1="437.50" x2="83.90" y2="437.50" stroke="#3a1c1e" stroke-width="0.8"/>
<circle cx="62.30" cy="432.70" r="1.25" fill="#1a2c5a"/>
<circle cx="62.30" cy="437.00" r="1.25" fill="#1a2c5a"/>
<circle cx="57.60" cy="446.50" r="1.25" fill="#1a2c5a"/>
<circle cx="66.90" cy="446.50" r="1.25" fill="#1a2c5a"/>
<circle cx="62.30" cy="444.70" r="1.25" fill="#1a2c5a"/>
<circle cx="80.70" cy="426.50" r="1.25" fill="#b0102c"/>
<circle cx="78.10" cy="435.20" r="1.25" fill="#b0102c"/>
<circle cx="83.40" cy="435.40" r="1.25" fill="#b0102c"/>
<circle cx="80.70" cy="440.70" r="1.25" fill="#b0102c"/>
<text x="21.70" y="495.10" font-size="5.35" text-anchor="start" fill="#222" stroke="#222" stroke-width="0.08" textLength="53.90" lengthAdjust="spacingAndGlyphs">Wilcoxon rank sum test</text>
<text x="21.70" y="501.40" font-size="5.35" text-anchor="start" fill="#222" stroke="#222" stroke-width="0.08" textLength="61.30" lengthAdjust="spacingAndGlyphs"><tspan font-style="italic">P</tspan> = .19, FDR adj <tspan font-style="italic">P</tspan> = .215</text>
<rect x="123.40" y="534.50" width="12.80" height="28.60" fill="#8d9ac3" stroke="#7b87ad" stroke-width="0.5"/>
<rect x="143.80" y="526.80" width="12.50" height="36.30" fill="#e28f7c" stroke="#d97b70" stroke-width="0.5"/>
<line x1="116.50" y1="494.20" x2="116.50" y2="564.00" stroke="#2a2a2a" stroke-width="1.0"/>
<line x1="116.00" y1="563.50" x2="163.40" y2="563.50" stroke="#2a2a2a" stroke-width="1.0"/>
<line x1="114.60" y1="563.10" x2="116.50" y2="563.10" stroke="#2a2a2a" stroke-width="0.7"/>
<text x="112.70" y="564.45" font-size="4.5" text-anchor="end" fill="#333" stroke="#333" stroke-width="0.1">0.0</text>
<line x1="114.60" y1="551.95" x2="116.50" y2="551.95" stroke="#2a2a2a" stroke-width="0.7"/>
<text x="112.70" y="553.30" font-size="4.5" text-anchor="end" fill="#333" stroke="#333" stroke-width="0.1">3.0×10<tspan font-size="2.79" dy="-1.6">7</tspan></text>
<line x1="114.60" y1="540.80" x2="116.50" y2="540.80" stroke="#2a2a2a" stroke-width="0.7"/>
<text x="112.70" y="542.15" font-size="4.5" text-anchor="end" fill="#333" stroke="#333" stroke-width="0.1">6.0×10<tspan font-size="2.79" dy="-1.6">7</tspan></text>
<line x1="114.60" y1="529.65" x2="116.50" y2="529.65" stroke="#2a2a2a" stroke-width="0.7"/>
<text x="112.70" y="531.00" font-size="4.5" text-anchor="end" fill="#333" stroke="#333" stroke-width="0.1">9.0×10<tspan font-size="2.79" dy="-1.6">7</tspan></text>
<line x1="114.60" y1="518.50" x2="116.50" y2="518.50" stroke="#2a2a2a" stroke-width="0.7"/>
<text x="112.70" y="519.85" font-size="4.5" text-anchor="end" fill="#333" stroke="#333" stroke-width="0.1">1.2×10<tspan font-size="2.79" dy="-1.6">8</tspan></text>
<line x1="114.60" y1="507.35" x2="116.50" y2="507.35" stroke="#2a2a2a" stroke-width="0.7"/>
<text x="112.70" y="508.70" font-size="4.5" text-anchor="end" fill="#333" stroke="#333" stroke-width="0.1">1.5×10<tspan font-size="2.79" dy="-1.6">8</tspan></text>
<line x1="114.60" y1="496.20" x2="116.50" y2="496.20" stroke="#2a2a2a" stroke-width="0.7"/>
<text x="112.70" y="497.55" font-size="4.5" text-anchor="end" fill="#333" stroke="#333" stroke-width="0.1">1.8×10<tspan font-size="2.79" dy="-1.6">8</tspan></text>
<line x1="129.80" y1="563.50" x2="129.80" y2="565.80" stroke="#333" stroke-width="0.6"/>
<line x1="150.05" y1="563.50" x2="150.05" y2="565.80" stroke="#333" stroke-width="0.6"/>
<line x1="129.80" y1="532.30" x2="129.80" y2="539.50" stroke="#20243a" stroke-width="0.8"/>
<line x1="126.70" y1="532.30" x2="132.90" y2="532.30" stroke="#20243a" stroke-width="0.8"/>
<line x1="126.70" y1="539.50" x2="132.90" y2="539.50" stroke="#20243a" stroke-width="0.8"/>
<line x1="150.05" y1="517.60" x2="150.05" y2="534.70" stroke="#3a1c1e" stroke-width="0.8"/>
<line x1="146.95" y1="517.60" x2="153.15" y2="517.60" stroke="#3a1c1e" stroke-width="0.8"/>
<line x1="146.95" y1="534.70" x2="153.15" y2="534.70" stroke="#3a1c1e" stroke-width="0.8"/>
<circle cx="129.90" cy="525.30" r="1.25" fill="#1a2c5a"/>
<circle cx="124.60" cy="534.60" r="1.25" fill="#1a2c5a"/>
<circle cx="135.20" cy="535.90" r="1.25" fill="#1a2c5a"/>
<circle cx="129.90" cy="542.30" r="1.25" fill="#1a2c5a"/>
<circle cx="129.90" cy="536.50" r="1.25" fill="#1a2c5a"/>
<circle cx="149.90" cy="503.20" r="1.25" fill="#b0102c"/>
<circle cx="149.90" cy="523.50" r="1.25" fill="#b0102c"/>
<circle cx="149.90" cy="535.50" r="1.25" fill="#b0102c"/>
<circle cx="150.00" cy="541.50" r="1.25" fill="#b0102c"/>
<text x="104.50" y="575.10" font-size="5.35" text-anchor="start" fill="#222" stroke="#222" stroke-width="0.08" textLength="54.20" lengthAdjust="spacingAndGlyphs">Wilcoxon rank sum test</text>
<text x="104.50" y="581.40" font-size="5.35" text-anchor="start" fill="#222" stroke="#222" stroke-width="0.08" textLength="61.60" lengthAdjust="spacingAndGlyphs"><tspan font-style="italic">P</tspan> = .56, FDR adj <tspan font-style="italic">P</tspan> = .595</text>
<rect x="170.5" y="429.5" width="164.4" height="259.7" fill="none" stroke="#555" stroke-width="1.1"/>
<text transform="translate(245.70,472.40) rotate(-90)" x="0" y="0" font-size="6.0" text-anchor="middle" fill="#222" stroke="#222" stroke-width="0.15" textLength="27.5" lengthAdjust="spacingAndGlyphs">Concentration</text>
<text transform="translate(252.40,472.40) rotate(-90)" x="0" y="0" font-size="6.0" text-anchor="middle" fill="#222" stroke="#222" stroke-width="0.15" textLength="41" lengthAdjust="spacingAndGlyphs">(relative abundance)</text>
<rect x="285.30" y="477.30" width="14.20" height="27.50" fill="#8d9ac3" stroke="#7b87ad" stroke-width="0.5"/>
<rect x="307.10" y="452.40" width="14.50" height="52.40" fill="#e28f7c" stroke="#d97b70" stroke-width="0.5"/>
<line x1="277.50" y1="440.80" x2="277.50" y2="505.00" stroke="#2a2a2a" stroke-width="1.0"/>
<line x1="277.00" y1="504.50" x2="329.20" y2="504.50" stroke="#2a2a2a" stroke-width="1.0"/>
<line x1="275.60" y1="504.80" x2="277.50" y2="504.80" stroke="#2a2a2a" stroke-width="0.7"/>
<text x="273.70" y="506.15" font-size="4.5" text-anchor="end" fill="#333" stroke="#333" stroke-width="0.1">0.0</text>
<line x1="275.60" y1="489.20" x2="277.50" y2="489.20" stroke="#2a2a2a" stroke-width="0.7"/>
<text x="273.70" y="490.55" font-size="4.5" text-anchor="end" fill="#333" stroke="#333" stroke-width="0.1">5.0×10<tspan font-size="2.79" dy="-1.6">6</tspan></text>
<line x1="275.60" y1="473.60" x2="277.50" y2="473.60" stroke="#2a2a2a" stroke-width="0.7"/>
<text x="273.70" y="474.95" font-size="4.5" text-anchor="end" fill="#333" stroke="#333" stroke-width="0.1">1.0×10<tspan font-size="2.79" dy="-1.6">7</tspan></text>
<line x1="275.60" y1="458.00" x2="277.50" y2="458.00" stroke="#2a2a2a" stroke-width="0.7"/>
<text x="273.70" y="459.35" font-size="4.5" text-anchor="end" fill="#333" stroke="#333" stroke-width="0.1">1.5×10<tspan font-size="2.79" dy="-1.6">7</tspan></text>
<line x1="275.60" y1="442.40" x2="277.50" y2="442.40" stroke="#2a2a2a" stroke-width="0.7"/>
<text x="273.70" y="443.75" font-size="4.5" text-anchor="end" fill="#333" stroke="#333" stroke-width="0.1">2.0×10<tspan font-size="2.79" dy="-1.6">7</tspan></text>
<line x1="292.40" y1="504.50" x2="292.40" y2="506.80" stroke="#333" stroke-width="0.6"/>
<line x1="314.35" y1="504.50" x2="314.35" y2="506.80" stroke="#333" stroke-width="0.6"/>
<line x1="292.40" y1="475.40" x2="292.40" y2="478.80" stroke="#20243a" stroke-width="0.8"/>
<line x1="289.30" y1="475.40" x2="295.50" y2="475.40" stroke="#20243a" stroke-width="0.8"/>
<line x1="289.30" y1="478.80" x2="295.50" y2="478.80" stroke="#20243a" stroke-width="0.8"/>
<line x1="314.35" y1="448.20" x2="314.35" y2="455.50" stroke="#3a1c1e" stroke-width="0.8"/>
<line x1="311.25" y1="448.20" x2="317.45" y2="448.20" stroke="#3a1c1e" stroke-width="0.8"/>
<line x1="311.25" y1="455.50" x2="317.45" y2="455.50" stroke="#3a1c1e" stroke-width="0.8"/>
<circle cx="286.00" cy="474.50" r="1.25" fill="#1a2c5a"/>
<circle cx="292.20" cy="473.50" r="1.25" fill="#1a2c5a"/>
<circle cx="298.60" cy="475.90" r="1.25" fill="#1a2c5a"/>
<circle cx="289.10" cy="481.60" r="1.25" fill="#1a2c5a"/>
<circle cx="295.30" cy="480.20" r="1.25" fill="#1a2c5a"/>
<circle cx="311.90" cy="446.50" r="1.25" fill="#b0102c"/>
<circle cx="316.90" cy="445.10" r="1.25" fill="#b0102c"/>
<circle cx="311.90" cy="458.40" r="1.25" fill="#b0102c"/>
<circle cx="316.90" cy="457.90" r="1.25" fill="#b0102c"/>
<line x1="287.20" y1="440.80" x2="313.80" y2="440.80" stroke="#666" stroke-width="1.0"/>
<text x="300.50" y="441.10" font-size="4.6" text-anchor="middle" fill="#555">*</text>
<text transform="translate(250.30,550.50) rotate(-90)" x="0" y="0" font-size="6.0" text-anchor="middle" fill="#222" stroke="#222" stroke-width="0.15" textLength="27.5" lengthAdjust="spacingAndGlyphs">Concentration</text>
<text transform="translate(257.40,550.50) rotate(-90)" x="0" y="0" font-size="6.0" text-anchor="middle" fill="#222" stroke="#222" stroke-width="0.15" textLength="40.7" lengthAdjust="spacingAndGlyphs">(relative abundance)</text>
<rect x="286.00" y="538.10" width="12.80" height="49.00" fill="#8d9ac3" stroke="#7b87ad" stroke-width="0.5"/>
<rect x="306.10" y="544.70" width="12.70" height="42.40" fill="#e28f7c" stroke="#d97b70" stroke-width="0.5"/>
<line x1="278.50" y1="514.80" x2="278.50" y2="588.00" stroke="#2a2a2a" stroke-width="1.0"/>
<line x1="278.00" y1="587.50" x2="326.30" y2="587.50" stroke="#2a2a2a" stroke-width="1.0"/>
<line x1="276.60" y1="587.10" x2="278.50" y2="587.10" stroke="#2a2a2a" stroke-width="0.7"/>
<text x="274.70" y="588.45" font-size="4.5" text-anchor="end" fill="#333" stroke="#333" stroke-width="0.1">4×10<tspan font-size="2.79" dy="-1.6">7</tspan></text>
<line x1="276.60" y1="569.40" x2="278.50" y2="569.40" stroke="#2a2a2a" stroke-width="0.7"/>
<text x="274.70" y="570.75" font-size="4.5" text-anchor="end" fill="#333" stroke="#333" stroke-width="0.1">5×10<tspan font-size="2.79" dy="-1.6">7</tspan></text>
<line x1="276.60" y1="551.70" x2="278.50" y2="551.70" stroke="#2a2a2a" stroke-width="0.7"/>
<text x="274.70" y="553.05" font-size="4.5" text-anchor="end" fill="#333" stroke="#333" stroke-width="0.1">6×10<tspan font-size="2.79" dy="-1.6">7</tspan></text>
<line x1="276.60" y1="534.00" x2="278.50" y2="534.00" stroke="#2a2a2a" stroke-width="0.7"/>
<text x="274.70" y="535.35" font-size="4.5" text-anchor="end" fill="#333" stroke="#333" stroke-width="0.1">7×10<tspan font-size="2.79" dy="-1.6">7</tspan></text>
<line x1="276.60" y1="516.30" x2="278.50" y2="516.30" stroke="#2a2a2a" stroke-width="0.7"/>
<text x="274.70" y="517.65" font-size="4.5" text-anchor="end" fill="#333" stroke="#333" stroke-width="0.1">8×10<tspan font-size="2.79" dy="-1.6">7</tspan></text>
<line x1="292.40" y1="587.50" x2="292.40" y2="589.80" stroke="#333" stroke-width="0.6"/>
<line x1="312.45" y1="587.50" x2="312.45" y2="589.80" stroke="#333" stroke-width="0.6"/>
<line x1="292.40" y1="533.20" x2="292.40" y2="542.50" stroke="#20243a" stroke-width="0.8"/>
<line x1="289.30" y1="533.20" x2="295.50" y2="533.20" stroke="#20243a" stroke-width="0.8"/>
<line x1="289.30" y1="542.50" x2="295.50" y2="542.50" stroke="#20243a" stroke-width="0.8"/>
<line x1="312.45" y1="535.40" x2="312.45" y2="553.20" stroke="#3a1c1e" stroke-width="0.8"/>
<line x1="309.35" y1="535.40" x2="315.55" y2="535.40" stroke="#3a1c1e" stroke-width="0.8"/>
<line x1="309.35" y1="553.20" x2="315.55" y2="553.20" stroke="#3a1c1e" stroke-width="0.8"/>
<circle cx="291.80" cy="524.30" r="1.25" fill="#1a2c5a"/>
<circle cx="292.40" cy="530.70" r="1.25" fill="#1a2c5a"/>
<circle cx="289.20" cy="541.90" r="1.25" fill="#1a2c5a"/>
<circle cx="294.50" cy="541.90" r="1.25" fill="#1a2c5a"/>
<circle cx="292.00" cy="550.30" r="1.25" fill="#1a2c5a"/>
<circle cx="312.50" cy="527.10" r="1.25" fill="#b0102c"/>
<circle cx="312.50" cy="532.20" r="1.25" fill="#b0102c"/>
<circle cx="312.50" cy="548.70" r="1.25" fill="#b0102c"/>
<circle cx="312.10" cy="568.10" r="1.25" fill="#b0102c"/>
<text transform="translate(246.30,639.70) rotate(-90)" x="0" y="0" font-size="6.0" text-anchor="middle" fill="#222" stroke="#222" stroke-width="0.15" textLength="27.5" lengthAdjust="spacingAndGlyphs">Concentration</text>
<text transform="translate(253.30,639.70) rotate(-90)" x="0" y="0" font-size="6.0" text-anchor="middle" fill="#222" stroke="#222" stroke-width="0.15" textLength="41.4" lengthAdjust="spacingAndGlyphs">(relative abundance)</text>
<rect x="287.20" y="627.90" width="12.60" height="48.50" fill="#8d9ac3" stroke="#7b87ad" stroke-width="0.5"/>
<rect x="307.00" y="644.10" width="12.90" height="32.30" fill="#e28f7c" stroke="#d97b70" stroke-width="0.5"/>
<line x1="279.50" y1="604.30" x2="279.50" y2="677.00" stroke="#2a2a2a" stroke-width="1.0"/>
<line x1="279.00" y1="676.50" x2="326.30" y2="676.50" stroke="#2a2a2a" stroke-width="1.0"/>
<line x1="277.60" y1="676.40" x2="279.50" y2="676.40" stroke="#2a2a2a" stroke-width="0.7"/>
<text x="275.70" y="677.75" font-size="4.5" text-anchor="end" fill="#333" stroke="#333" stroke-width="0.1">0.0</text>
<line x1="277.60" y1="653.10" x2="279.50" y2="653.10" stroke="#2a2a2a" stroke-width="0.7"/>
<text x="275.70" y="654.45" font-size="4.5" text-anchor="end" fill="#333" stroke="#333" stroke-width="0.1">5.0×10<tspan font-size="2.79" dy="-1.6">9</tspan></text>
<line x1="277.60" y1="629.80" x2="279.50" y2="629.80" stroke="#2a2a2a" stroke-width="0.7"/>
<text x="275.70" y="631.15" font-size="4.5" text-anchor="end" fill="#333" stroke="#333" stroke-width="0.1">1.0×10<tspan font-size="2.79" dy="-1.6">10</tspan></text>
<line x1="277.60" y1="606.50" x2="279.50" y2="606.50" stroke="#2a2a2a" stroke-width="0.7"/>
<text x="275.70" y="607.85" font-size="4.5" text-anchor="end" fill="#333" stroke="#333" stroke-width="0.1">1.5×10<tspan font-size="2.79" dy="-1.6">10</tspan></text>
<line x1="293.50" y1="676.50" x2="293.50" y2="678.80" stroke="#333" stroke-width="0.6"/>
<line x1="313.45" y1="676.50" x2="313.45" y2="678.80" stroke="#333" stroke-width="0.6"/>
<line x1="293.50" y1="626.10" x2="293.50" y2="629.60" stroke="#20243a" stroke-width="0.8"/>
<line x1="290.40" y1="626.10" x2="296.60" y2="626.10" stroke="#20243a" stroke-width="0.8"/>
<line x1="290.40" y1="629.60" x2="296.60" y2="629.60" stroke="#20243a" stroke-width="0.8"/>
<line x1="313.45" y1="639.50" x2="313.45" y2="648.40" stroke="#3a1c1e" stroke-width="0.8"/>
<line x1="310.35" y1="639.50" x2="316.55" y2="639.50" stroke="#3a1c1e" stroke-width="0.8"/>
<line x1="310.35" y1="648.40" x2="316.55" y2="648.40" stroke="#3a1c1e" stroke-width="0.8"/>
<circle cx="293.20" cy="619.50" r="1.25" fill="#1a2c5a"/>
<circle cx="290.30" cy="626.60" r="1.25" fill="#1a2c5a"/>
<circle cx="296.00" cy="626.60" r="1.25" fill="#1a2c5a"/>
<circle cx="293.20" cy="626.60" r="1.25" fill="#1a2c5a"/>
<circle cx="296.00" cy="631.40" r="1.25" fill="#1a2c5a"/>
<circle cx="290.30" cy="634.00" r="1.25" fill="#1a2c5a"/>
<circle cx="313.20" cy="633.70" r="1.25" fill="#b0102c"/>
<circle cx="313.20" cy="639.70" r="1.25" fill="#b0102c"/>
<circle cx="313.20" cy="648.40" r="1.25" fill="#b0102c"/>
<circle cx="313.20" cy="653.00" r="1.25" fill="#b0102c"/>
<line x1="290.90" y1="608.40" x2="315.70" y2="608.40" stroke="#666" stroke-width="1.0"/>
<text x="303.30" y="608.70" font-size="4.6" text-anchor="middle" fill="#555">*</text>
<text x="176.70" y="495.20" font-size="5.35" text-anchor="start" fill="#222" stroke="#222" stroke-width="0.08" textLength="54.20" lengthAdjust="spacingAndGlyphs">Wilcoxon rank sum test</text>
<text x="176.70" y="502.00" font-size="5.35" text-anchor="start" fill="#222" stroke="#222" stroke-width="0.08" textLength="64.90" lengthAdjust="spacingAndGlyphs"><tspan font-style="italic">P</tspan> = .016, FDR adj <tspan font-style="italic">P</tspan> = .034</text>
<line x1="207.00" y1="530.20" x2="207.00" y2="509.66" stroke="#777" stroke-width="0.9"/>
<path d="M205.50,511.10 L208.50,511.10 L207.00,507.50 Z" fill="#111"/>
<text x="207.00" y="540.20" font-size="8.2" text-anchor="middle" fill="#222" stroke="#222" stroke-width="0.08" textLength="36.30" lengthAdjust="spacingAndGlyphs">Glutamate</text>
<text x="176.70" y="551.20" font-size="5.35" text-anchor="start" fill="#222" stroke="#222" stroke-width="0.08" textLength="54.20" lengthAdjust="spacingAndGlyphs">Wilcoxon rank sum test</text>
<text x="176.70" y="557.70" font-size="5.35" text-anchor="start" fill="#222" stroke="#222" stroke-width="0.08" textLength="58.90" lengthAdjust="spacingAndGlyphs"><tspan font-style="italic">P</tspan> = .73, FDR adj <tspan font-style="italic">P</tspan> = .73</text>
<line x1="207.00" y1="604.50" x2="207.00" y2="572.36" stroke="#777" stroke-width="0.9"/>
<path d="M205.50,573.80 L208.50,573.80 L207.00,570.20 Z" fill="#111"/>
<text x="207.10" y="621.80" font-size="8.2" text-anchor="middle" fill="#222" stroke="#222" stroke-width="0.08" textLength="35.80" lengthAdjust="spacingAndGlyphs">Glutamine</text>
<text x="175.30" y="639.60" font-size="5.35" text-anchor="start" fill="#222" stroke="#222" stroke-width="0.08" textLength="54.20" lengthAdjust="spacingAndGlyphs">Wilcoxon rank sum test</text>
<text x="175.30" y="645.70" font-size="5.35" text-anchor="start" fill="#222" stroke="#222" stroke-width="0.08"><tspan font-style="italic">P</tspan> = .032,</text>
<text x="175.30" y="652.30" font-size="5.35" text-anchor="start" fill="#222" stroke="#222" stroke-width="0.08" textLength="40.80" lengthAdjust="spacingAndGlyphs">FDR adj <tspan font-style="italic">P</tspan> = .045</text>
<text x="173.80" y="682.20" font-size="6.9" text-anchor="start" font-weight="bold" fill="#111" textLength="58.60" lengthAdjust="spacingAndGlyphs" stroke="#111" stroke-width="0.2">GLUTAMINOLYSIS</text>
<rect x="350.8" y="438.8" width="162.7" height="250.4" fill="none" stroke="#555" stroke-width="1.1"/>
<text transform="translate(362.30,477.80) rotate(-90)" x="0" y="0" font-size="6.0" text-anchor="middle" fill="#222" stroke="#222" stroke-width="0.15" textLength="27.8" lengthAdjust="spacingAndGlyphs">Concentration</text>
<text transform="translate(369.40,477.80) rotate(-90)" x="0" y="0" font-size="6.0" text-anchor="middle" fill="#222" stroke="#222" stroke-width="0.15" textLength="41" lengthAdjust="spacingAndGlyphs">(relative abundance)</text>
<rect x="401.50" y="490.90" width="12.60" height="21.30" fill="#8d9ac3" stroke="#7b87ad" stroke-width="0.5"/>
<rect x="421.00" y="467.70" width="12.90" height="44.50" fill="#e28f7c" stroke="#d97b70" stroke-width="0.5"/>
<line x1="394.50" y1="444.70" x2="394.50" y2="513.00" stroke="#2a2a2a" stroke-width="1.0"/>
<line x1="394.00" y1="512.50" x2="440.40" y2="512.50" stroke="#2a2a2a" stroke-width="1.0"/>
<line x1="392.60" y1="512.20" x2="394.50" y2="512.20" stroke="#2a2a2a" stroke-width="0.7"/>
<text x="390.70" y="513.55" font-size="4.5" text-anchor="end" fill="#333" stroke="#333" stroke-width="0.1">0.0</text>
<line x1="392.60" y1="490.23" x2="394.50" y2="490.23" stroke="#2a2a2a" stroke-width="0.7"/>
<text x="390.70" y="491.58" font-size="4.5" text-anchor="end" fill="#333" stroke="#333" stroke-width="0.1">5.0×10<tspan font-size="2.79" dy="-1.6">7</tspan></text>
<line x1="392.60" y1="468.26" x2="394.50" y2="468.26" stroke="#2a2a2a" stroke-width="0.7"/>
<text x="390.70" y="469.61" font-size="4.5" text-anchor="end" fill="#333" stroke="#333" stroke-width="0.1">1.0×10<tspan font-size="2.79" dy="-1.6">8</tspan></text>
<line x1="392.60" y1="446.29" x2="394.50" y2="446.29" stroke="#2a2a2a" stroke-width="0.7"/>
<text x="390.70" y="447.64" font-size="4.5" text-anchor="end" fill="#333" stroke="#333" stroke-width="0.1">1.5×10<tspan font-size="2.79" dy="-1.6">8</tspan></text>
<line x1="407.80" y1="512.50" x2="407.80" y2="514.80" stroke="#333" stroke-width="0.6"/>
<line x1="427.45" y1="512.50" x2="427.45" y2="514.80" stroke="#333" stroke-width="0.6"/>
<line x1="407.80" y1="487.20" x2="407.80" y2="493.70" stroke="#20243a" stroke-width="0.8"/>
<line x1="404.70" y1="487.20" x2="410.90" y2="487.20" stroke="#20243a" stroke-width="0.8"/>
<line x1="404.70" y1="493.70" x2="410.90" y2="493.70" stroke="#20243a" stroke-width="0.8"/>
<line x1="427.45" y1="461.50" x2="427.45" y2="472.50" stroke="#3a1c1e" stroke-width="0.8"/>
<line x1="424.35" y1="461.50" x2="430.55" y2="461.50" stroke="#3a1c1e" stroke-width="0.8"/>
<line x1="424.35" y1="472.50" x2="430.55" y2="472.50" stroke="#3a1c1e" stroke-width="0.8"/>
<circle cx="407.70" cy="480.80" r="1.25" fill="#1a2c5a"/>
<circle cx="407.70" cy="486.50" r="1.25" fill="#1a2c5a"/>
<circle cx="404.90" cy="493.20" r="1.25" fill="#1a2c5a"/>
<circle cx="410.40" cy="494.80" r="1.25" fill="#1a2c5a"/>
<circle cx="404.90" cy="496.20" r="1.25" fill="#1a2c5a"/>
<circle cx="427.60" cy="451.40" r="1.25" fill="#b0102c"/>
<circle cx="427.60" cy="468.40" r="1.25" fill="#b0102c"/>
<circle cx="427.60" cy="471.60" r="1.25" fill="#b0102c"/>
<circle cx="427.60" cy="477.80" r="1.25" fill="#b0102c"/>
<line x1="405.20" y1="448.40" x2="427.60" y2="448.40" stroke="#666" stroke-width="1.0"/>
<text x="416.40" y="448.70" font-size="4.6" text-anchor="middle" fill="#555">*</text>
<text transform="translate(365.40,564.90) rotate(-90)" x="0" y="0" font-size="6.0" text-anchor="middle" fill="#222" stroke="#222" stroke-width="0.15" textLength="27.8" lengthAdjust="spacingAndGlyphs">Concentration</text>
<text transform="translate(372.80,564.90) rotate(-90)" x="0" y="0" font-size="6.0" text-anchor="middle" fill="#222" stroke="#222" stroke-width="0.15" textLength="41.4" lengthAdjust="spacingAndGlyphs">(relative abundance)</text>
<rect x="401.30" y="575.70" width="12.60" height="23.60" fill="#8d9ac3" stroke="#7b87ad" stroke-width="0.5"/>
<rect x="421.20" y="562.70" width="12.60" height="36.60" fill="#e28f7c" stroke="#d97b70" stroke-width="0.5"/>
<line x1="394.50" y1="532.10" x2="394.50" y2="600.00" stroke="#2a2a2a" stroke-width="1.0"/>
<line x1="394.00" y1="599.50" x2="440.80" y2="599.50" stroke="#2a2a2a" stroke-width="1.0"/>
<line x1="392.60" y1="599.30" x2="394.50" y2="599.30" stroke="#2a2a2a" stroke-width="0.7"/>
<text x="390.70" y="600.65" font-size="4.5" text-anchor="end" fill="#333" stroke="#333" stroke-width="0.1">0</text>
<line x1="392.60" y1="583.10" x2="394.50" y2="583.10" stroke="#2a2a2a" stroke-width="0.7"/>
<text x="390.70" y="584.45" font-size="4.5" text-anchor="end" fill="#333" stroke="#333" stroke-width="0.1">2×10<tspan font-size="2.79" dy="-1.6">8</tspan></text>
<line x1="392.60" y1="566.90" x2="394.50" y2="566.90" stroke="#2a2a2a" stroke-width="0.7"/>
<text x="390.70" y="568.25" font-size="4.5" text-anchor="end" fill="#333" stroke="#333" stroke-width="0.1">4×10<tspan font-size="2.79" dy="-1.6">8</tspan></text>
<line x1="392.60" y1="550.70" x2="394.50" y2="550.70" stroke="#2a2a2a" stroke-width="0.7"/>
<text x="390.70" y="552.05" font-size="4.5" text-anchor="end" fill="#333" stroke="#333" stroke-width="0.1">6×10<tspan font-size="2.79" dy="-1.6">8</tspan></text>
<line x1="392.60" y1="534.50" x2="394.50" y2="534.50" stroke="#2a2a2a" stroke-width="0.7"/>
<text x="390.70" y="535.85" font-size="4.5" text-anchor="end" fill="#333" stroke="#333" stroke-width="0.1">8×10<tspan font-size="2.79" dy="-1.6">8</tspan></text>
<line x1="407.60" y1="599.50" x2="407.60" y2="601.80" stroke="#333" stroke-width="0.6"/>
<line x1="427.50" y1="599.50" x2="427.50" y2="601.80" stroke="#333" stroke-width="0.6"/>
<line x1="407.60" y1="573.70" x2="407.60" y2="578.50" stroke="#20243a" stroke-width="0.8"/>
<line x1="404.50" y1="573.70" x2="410.70" y2="573.70" stroke="#20243a" stroke-width="0.8"/>
<line x1="404.50" y1="578.50" x2="410.70" y2="578.50" stroke="#20243a" stroke-width="0.8"/>
<line x1="427.50" y1="556.00" x2="427.50" y2="569.60" stroke="#3a1c1e" stroke-width="0.8"/>
<line x1="424.40" y1="556.00" x2="430.60" y2="556.00" stroke="#3a1c1e" stroke-width="0.8"/>
<line x1="424.40" y1="569.60" x2="430.60" y2="569.60" stroke="#3a1c1e" stroke-width="0.8"/>
<circle cx="407.40" cy="567.40" r="1.25" fill="#1a2c5a"/>
<circle cx="404.90" cy="575.10" r="1.25" fill="#1a2c5a"/>
<circle cx="410.00" cy="574.40" r="1.25" fill="#1a2c5a"/>
<circle cx="404.90" cy="581.10" r="1.25" fill="#1a2c5a"/>
<circle cx="410.00" cy="580.90" r="1.25" fill="#1a2c5a"/>
<circle cx="427.40" cy="544.70" r="1.25" fill="#b0102c"/>
<circle cx="427.40" cy="561.00" r="1.25" fill="#b0102c"/>
<circle cx="427.40" cy="569.60" r="1.25" fill="#b0102c"/>
<circle cx="427.40" cy="574.20" r="1.25" fill="#b0102c"/>
<text transform="translate(365.70,647.00) rotate(-90)" x="0" y="0" font-size="6.0" text-anchor="middle" fill="#222" stroke="#222" stroke-width="0.15" textLength="27.3" lengthAdjust="spacingAndGlyphs">Concentration</text>
<text transform="translate(372.80,647.00) rotate(-90)" x="0" y="0" font-size="6.0" text-anchor="middle" fill="#222" stroke="#222" stroke-width="0.15" textLength="41" lengthAdjust="spacingAndGlyphs">(relative abundance)</text>
<rect x="401.20" y="663.10" width="12.70" height="18.20" fill="#8d9ac3" stroke="#7b87ad" stroke-width="0.5"/>
<rect x="421.30" y="632.10" width="12.40" height="49.20" fill="#e28f7c" stroke="#d97b70" stroke-width="0.5"/>
<line x1="394.50" y1="613.50" x2="394.50" y2="682.00" stroke="#2a2a2a" stroke-width="1.0"/>
<line x1="394.00" y1="681.50" x2="440.80" y2="681.50" stroke="#2a2a2a" stroke-width="1.0"/>
<line x1="392.60" y1="681.30" x2="394.50" y2="681.30" stroke="#2a2a2a" stroke-width="0.7"/>
<text x="390.70" y="682.65" font-size="4.5" text-anchor="end" fill="#333" stroke="#333" stroke-width="0.1">0</text>
<line x1="392.60" y1="668.00" x2="394.50" y2="668.00" stroke="#2a2a2a" stroke-width="0.7"/>
<text x="390.70" y="669.35" font-size="4.5" text-anchor="end" fill="#333" stroke="#333" stroke-width="0.1">2×10<tspan font-size="2.79" dy="-1.6">8</tspan></text>
<line x1="392.60" y1="654.70" x2="394.50" y2="654.70" stroke="#2a2a2a" stroke-width="0.7"/>
<text x="390.70" y="656.05" font-size="4.5" text-anchor="end" fill="#333" stroke="#333" stroke-width="0.1">4×10<tspan font-size="2.79" dy="-1.6">8</tspan></text>
<line x1="392.60" y1="641.40" x2="394.50" y2="641.40" stroke="#2a2a2a" stroke-width="0.7"/>
<text x="390.70" y="642.75" font-size="4.5" text-anchor="end" fill="#333" stroke="#333" stroke-width="0.1">6×10<tspan font-size="2.79" dy="-1.6">8</tspan></text>
<line x1="392.60" y1="628.10" x2="394.50" y2="628.10" stroke="#2a2a2a" stroke-width="0.7"/>
<text x="390.70" y="629.45" font-size="4.5" text-anchor="end" fill="#333" stroke="#333" stroke-width="0.1">8×10<tspan font-size="2.79" dy="-1.6">8</tspan></text>
<line x1="392.60" y1="614.80" x2="394.50" y2="614.80" stroke="#2a2a2a" stroke-width="0.7"/>
<text x="390.70" y="616.15" font-size="4.5" text-anchor="end" fill="#333" stroke="#333" stroke-width="0.1">1×10<tspan font-size="2.79" dy="-1.6">9</tspan></text>
<line x1="407.55" y1="681.50" x2="407.55" y2="683.80" stroke="#333" stroke-width="0.6"/>
<line x1="427.50" y1="681.50" x2="427.50" y2="683.80" stroke="#333" stroke-width="0.6"/>
<line x1="407.55" y1="658.50" x2="407.55" y2="666.80" stroke="#20243a" stroke-width="0.8"/>
<line x1="404.45" y1="658.50" x2="410.65" y2="658.50" stroke="#20243a" stroke-width="0.8"/>
<line x1="404.45" y1="666.80" x2="410.65" y2="666.80" stroke="#20243a" stroke-width="0.8"/>
<line x1="427.50" y1="625.10" x2="427.50" y2="638.40" stroke="#3a1c1e" stroke-width="0.8"/>
<line x1="424.40" y1="625.10" x2="430.60" y2="625.10" stroke="#3a1c1e" stroke-width="0.8"/>
<line x1="424.40" y1="638.40" x2="430.60" y2="638.40" stroke="#3a1c1e" stroke-width="0.8"/>
<circle cx="407.60" cy="647.40" r="1.25" fill="#1a2c5a"/>
<circle cx="405.00" cy="667.10" r="1.25" fill="#1a2c5a"/>
<circle cx="410.30" cy="669.10" r="1.25" fill="#1a2c5a"/>
<circle cx="405.00" cy="670.10" r="1.25" fill="#1a2c5a"/>
<circle cx="407.60" cy="666.80" r="1.25" fill="#1a2c5a"/>
<circle cx="427.40" cy="621.10" r="1.25" fill="#b0102c"/>
<circle cx="427.40" cy="625.60" r="1.25" fill="#b0102c"/>
<circle cx="427.40" cy="630.90" r="1.25" fill="#b0102c"/>
<circle cx="427.40" cy="650.00" r="1.25" fill="#b0102c"/>
<line x1="405.80" y1="618.00" x2="427.70" y2="618.00" stroke="#666" stroke-width="1.0"/>
<text x="416.75" y="618.30" font-size="4.6" text-anchor="middle" fill="#555">*</text>
<line x1="465.70" y1="445.00" x2="465.70" y2="459.04" stroke="#777" stroke-width="0.9"/>
<path d="M464.20,457.60 L467.20,457.60 L465.70,461.20 Z" fill="#111"/>
<text x="465.20" y="471.50" font-size="6.3" text-anchor="middle" fill="#222" stroke="#222" stroke-width="0.08" textLength="34.40" lengthAdjust="spacingAndGlyphs">Palmitic acid</text>
<text x="445.50" y="482.90" font-size="5.35" text-anchor="start" fill="#222" stroke="#222" stroke-width="0.08" textLength="54.20" lengthAdjust="spacingAndGlyphs">Wilcoxon rank sum test</text>
<text x="445.50" y="489.40" font-size="5.35" text-anchor="start" fill="#222" stroke="#222" stroke-width="0.08" textLength="63.50" lengthAdjust="spacingAndGlyphs"><tspan font-style="italic">P</tspan> = .016, FDR adj <tspan font-style="italic">P</tspan> = .034</text>
<line x1="465.50" y1="503.80" x2="465.50" y2="529.34" stroke="#777" stroke-width="0.9"/>
<path d="M464.00,527.90 L467.00,527.90 L465.50,531.50 Z" fill="#111"/>
<text x="465.40" y="546.60" font-size="6.3" text-anchor="middle" fill="#222" stroke="#222" stroke-width="0.08" textLength="32.90" lengthAdjust="spacingAndGlyphs">Stearic acid</text>
<text x="444.70" y="557.20" font-size="5.35" text-anchor="start" fill="#222" stroke="#222" stroke-width="0.08" textLength="54.20" lengthAdjust="spacingAndGlyphs">Wilcoxon rank sum test</text>
<text x="444.70" y="563.70" font-size="5.35" text-anchor="start" fill="#222" stroke="#222" stroke-width="0.08" textLength="64.50" lengthAdjust="spacingAndGlyphs"><tspan font-style="italic">P</tspan> = .063, FDR adj <tspan font-style="italic">P</tspan> = .082</text>
<line x1="465.50" y1="590.40" x2="465.50" y2="616.24" stroke="#777" stroke-width="0.9"/>
<path d="M464.00,614.80 L467.00,614.80 L465.50,618.40 Z" fill="#111"/>
<text x="465.40" y="632.00" font-size="6.3" text-anchor="middle" fill="#222" stroke="#222" stroke-width="0.08" textLength="28.70" lengthAdjust="spacingAndGlyphs">Oleic acid</text>
<text x="444.70" y="644.50" font-size="5.35" text-anchor="start" fill="#222" stroke="#222" stroke-width="0.08" textLength="54.20" lengthAdjust="spacingAndGlyphs">Wilcoxon rank sum test</text>
<text x="444.70" y="651.40" font-size="5.35" text-anchor="start" fill="#222" stroke="#222" stroke-width="0.08" textLength="64.50" lengthAdjust="spacingAndGlyphs"><tspan font-style="italic">P</tspan> = .032, FDR adj <tspan font-style="italic">P</tspan> = .045</text>
<text x="476.80" y="672.80" font-size="6.8" text-anchor="middle" font-weight="bold" fill="#111" textLength="42.40" lengthAdjust="spacingAndGlyphs" stroke="#111" stroke-width="0.2">FATTY ACIDS</text>
<text x="476.80" y="681.00" font-size="6.8" text-anchor="middle" font-weight="bold" fill="#111" textLength="37.70" lengthAdjust="spacingAndGlyphs" stroke="#111" stroke-width="0.2">SYNTHESIS</text>
<path d="M159.43,381.42 A54.4,54.4 0 0 1 220.90,408.32" fill="none" stroke="#222" stroke-width="0.9"/>
<path d="M218.81,408.25 L221.91,406.41 L222.30,410.60 Z" fill="#111"/>
<path d="M226.94,427.01 A54.4,54.4 0 0 1 220.49,460.64" fill="none" stroke="#222" stroke-width="0.9"/>
<path d="M219.62,458.52 L222.40,460.81 L218.60,462.60 Z" fill="#111"/>
<path d="M209.53,474.41 A54.4,54.4 0 0 1 157.82,486.34" fill="none" stroke="#222" stroke-width="0.9"/>
<path d="M137.01,474.90 A54.4,54.4 0 0 1 122.20,453.56" fill="none" stroke="#222" stroke-width="0.9"/>
<path d="M118.69,437.19 A54.4,54.4 0 0 1 142.18,389.27" fill="none" stroke="#222" stroke-width="0.9"/>
<path d="M183.2,372.3 C183.6,377.5 185.5,380.0 191.5,381.6" fill="none" stroke="#222" stroke-width="0.9"/>
<line x1="190.90" y1="316.70" x2="183.56" y2="348.61" stroke="#222" stroke-width="0.85"/>
<path d="M182.30,346.93 L185.42,347.65 L183.10,350.60 Z" fill="#222"/>
<text x="182.60" y="364.40" font-size="8.0" text-anchor="middle" fill="#222" stroke="#222" stroke-width="0.08" textLength="37.70" lengthAdjust="spacingAndGlyphs">AcetylCoA</text>
<text x="142.70" y="385.80" font-size="8.0" text-anchor="middle" fill="#222" stroke="#222" stroke-width="0.08" textLength="23.40" lengthAdjust="spacingAndGlyphs">Malate</text>
<text x="172.60" y="417.00" font-size="9.8" text-anchor="middle" font-weight="bold" fill="#111" textLength="19.20" lengthAdjust="spacingAndGlyphs" stroke="#111" stroke-width="0.3">TCA</text>
<text x="227.90" y="420.20" font-size="8.0" text-anchor="middle" fill="#222" stroke="#222" stroke-width="0.08" textLength="24.20" lengthAdjust="spacingAndGlyphs">Citrate</text>
<text x="121.20" y="448.10" font-size="8.0" text-anchor="middle" fill="#222" stroke="#222" stroke-width="0.08" textLength="32.90" lengthAdjust="spacingAndGlyphs">Fumarate</text>
<text x="137.70" y="483.00" font-size="8.0" text-anchor="middle" fill="#222" stroke="#222" stroke-width="0.08" textLength="35.00" lengthAdjust="spacingAndGlyphs">Succinate</text>
<text x="213.00" y="471.50" font-size="8.0" text-anchor="middle" fill="#222" stroke="#222" stroke-width="0.08" textLength="16.00" lengthAdjust="spacingAndGlyphs">aKG</text>
<line x1="336.9" y1="420.2" x2="400" y2="420.2" stroke="#aa1230" stroke-width="1.3"/>
<path d="M359.8,381.1 C366,398 372,416 392,420.2" fill="none" stroke="#aa1230" stroke-width="1.3"/>
<path d="M396.2,415.9 L406.3,420.2 L396.2,424.6 L398.5,420.2 Z" fill="#aa1230"/>
<text x="368.00" y="432.30" font-size="9.3" text-anchor="middle" font-weight="bold" fill="#aa1230" textLength="24.90" lengthAdjust="spacingAndGlyphs" stroke="#aa1230" stroke-width="0.3">ACLY</text>
</svg>
</body></html>
